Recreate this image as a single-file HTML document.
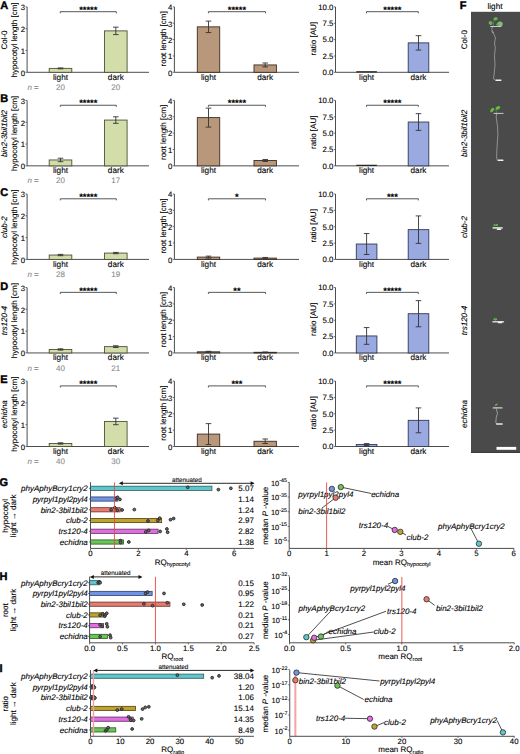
<!DOCTYPE html>
<html><head><meta charset="utf-8"><style>
html,body{margin:0;padding:0;background:#fff;width:520px;height:754px;overflow:hidden}
svg{display:block;font-family:"Liberation Sans", sans-serif;text-rendering:geometricPrecision}
text{stroke-width:0.1px}
</style></head><body>
<svg width="520" height="754" viewBox="0 0 520 754">
<text x="0.2" y="8.9" font-size="11" text-anchor="start" fill="#000" stroke="#000" font-weight="bold" style="stroke-width:0.4px">A</text>
<line x1="27.1" y1="6.9" x2="27.1" y2="72.3" stroke="#4d4d4d" stroke-width="1"/>
<line x1="27.1" y1="72.3" x2="149" y2="72.3" stroke="#4d4d4d" stroke-width="1"/>
<line x1="25.5" y1="72.3" x2="27.1" y2="72.3" stroke="#4d4d4d" stroke-width="0.8"/>
<text x="25" y="75.55" font-size="7.8" text-anchor="end" fill="#000" stroke="#000">0</text>
<line x1="25.5" y1="50.5" x2="27.1" y2="50.5" stroke="#4d4d4d" stroke-width="0.8"/>
<text x="25" y="53.75" font-size="7.8" text-anchor="end" fill="#000" stroke="#000">1</text>
<line x1="25.5" y1="28.7" x2="27.1" y2="28.7" stroke="#4d4d4d" stroke-width="0.8"/>
<text x="25" y="31.95" font-size="7.8" text-anchor="end" fill="#000" stroke="#000">2</text>
<line x1="25.5" y1="6.9" x2="27.1" y2="6.9" stroke="#4d4d4d" stroke-width="0.8"/>
<text x="25" y="10.15" font-size="7.8" text-anchor="end" fill="#000" stroke="#000">3</text>
<text x="16.9" y="40" font-size="8" text-anchor="middle" fill="#000" stroke="#000" transform="rotate(-90 16.9 40)">hypocotyl length [cm]</text>
<text x="7.4" y="40" font-size="8" text-anchor="middle" fill="#000" stroke="#000" transform="rotate(-90 7.4 40)">Col-0</text>
<rect x="49.2" y="68.38" width="22.6" height="3.92" fill="#d2dda9" stroke="#4b5238" stroke-width="0.9"/>
<line x1="60.5" y1="67.94" x2="60.5" y2="68.81" stroke="#333" stroke-width="0.9"/>
<line x1="57.7" y1="67.94" x2="63.3" y2="67.94" stroke="#333" stroke-width="0.9"/>
<line x1="57.7" y1="68.81" x2="63.3" y2="68.81" stroke="#333" stroke-width="0.9"/>
<text x="60.5" y="79.7" font-size="8.2" text-anchor="middle" fill="#000" stroke="#000">light</text>
<text x="60.5" y="89.9" font-size="8" text-anchor="middle" fill="#8c8c8c" stroke="#8c8c8c">20</text>
<rect x="104.5" y="30.88" width="22.6" height="41.42" fill="#d2dda9" stroke="#4b5238" stroke-width="0.9"/>
<line x1="115.8" y1="27.17" x2="115.8" y2="34.59" stroke="#333" stroke-width="0.9"/>
<line x1="113" y1="27.17" x2="118.6" y2="27.17" stroke="#333" stroke-width="0.9"/>
<line x1="113" y1="34.59" x2="118.6" y2="34.59" stroke="#333" stroke-width="0.9"/>
<text x="115.8" y="79.7" font-size="8.2" text-anchor="middle" fill="#000" stroke="#000">dark</text>
<text x="115.8" y="89.9" font-size="8" text-anchor="middle" fill="#8c8c8c" stroke="#8c8c8c">20</text>
<text x="27.4" y="89.9" font-size="8" text-anchor="start" fill="#8c8c8c" stroke="#8c8c8c"><tspan font-style="italic">n</tspan> =</text>
<path d="M60.3 13.3V11.7H116.3V13.3" fill="none" stroke="#444" stroke-width="0.9"/>
<text x="88.3" y="12.9" font-size="9.4" text-anchor="middle" fill="#000" stroke="#000" font-weight="bold">*****</text>
<line x1="174.4" y1="6.9" x2="174.4" y2="72.3" stroke="#4d4d4d" stroke-width="1"/>
<line x1="174.4" y1="72.3" x2="299" y2="72.3" stroke="#4d4d4d" stroke-width="1"/>
<line x1="172.8" y1="72.3" x2="174.4" y2="72.3" stroke="#4d4d4d" stroke-width="0.8"/>
<text x="172.3" y="75.55" font-size="7.8" text-anchor="end" fill="#000" stroke="#000">0</text>
<line x1="172.8" y1="55.95" x2="174.4" y2="55.95" stroke="#4d4d4d" stroke-width="0.8"/>
<text x="172.3" y="59.2" font-size="7.8" text-anchor="end" fill="#000" stroke="#000">1</text>
<line x1="172.8" y1="39.6" x2="174.4" y2="39.6" stroke="#4d4d4d" stroke-width="0.8"/>
<text x="172.3" y="42.85" font-size="7.8" text-anchor="end" fill="#000" stroke="#000">2</text>
<line x1="172.8" y1="23.25" x2="174.4" y2="23.25" stroke="#4d4d4d" stroke-width="0.8"/>
<text x="172.3" y="26.5" font-size="7.8" text-anchor="end" fill="#000" stroke="#000">3</text>
<line x1="172.8" y1="6.9" x2="174.4" y2="6.9" stroke="#4d4d4d" stroke-width="0.8"/>
<text x="172.3" y="10.15" font-size="7.8" text-anchor="end" fill="#000" stroke="#000">4</text>
<text x="165.6" y="38.9" font-size="8" text-anchor="middle" fill="#000" stroke="#000" transform="rotate(-90 165.6 38.9)">root length [cm]</text>
<rect x="197.3" y="26.85" width="22.4" height="45.45" fill="#b9977b" stroke="#3b2d22" stroke-width="0.9"/>
<line x1="208.5" y1="21.12" x2="208.5" y2="32.57" stroke="#333" stroke-width="0.9"/>
<line x1="205.7" y1="21.12" x2="211.3" y2="21.12" stroke="#333" stroke-width="0.9"/>
<line x1="205.7" y1="32.57" x2="211.3" y2="32.57" stroke="#333" stroke-width="0.9"/>
<text x="208.5" y="79.7" font-size="8.2" text-anchor="middle" fill="#000" stroke="#000">light</text>
<rect x="254" y="64.94" width="22.4" height="7.36" fill="#b9977b" stroke="#3b2d22" stroke-width="0.9"/>
<line x1="265.2" y1="62.98" x2="265.2" y2="66.9" stroke="#333" stroke-width="0.9"/>
<line x1="262.4" y1="62.98" x2="268" y2="62.98" stroke="#333" stroke-width="0.9"/>
<line x1="262.4" y1="66.9" x2="268" y2="66.9" stroke="#333" stroke-width="0.9"/>
<text x="265.2" y="79.7" font-size="8.2" text-anchor="middle" fill="#000" stroke="#000">dark</text>
<path d="M208.4 13.3V11.7H265.5V13.3" fill="none" stroke="#444" stroke-width="0.9"/>
<text x="236.95" y="12.9" font-size="9.4" text-anchor="middle" fill="#000" stroke="#000" font-weight="bold">*****</text>
<line x1="335.5" y1="6.9" x2="335.5" y2="72.3" stroke="#4d4d4d" stroke-width="1"/>
<line x1="335.5" y1="72.3" x2="449" y2="72.3" stroke="#4d4d4d" stroke-width="1"/>
<line x1="333.9" y1="72.3" x2="335.5" y2="72.3" stroke="#4d4d4d" stroke-width="0.8"/>
<text x="333.4" y="75.15" font-size="7.8" text-anchor="end" fill="#000" stroke="#000">0.0</text>
<line x1="333.9" y1="55.95" x2="335.5" y2="55.95" stroke="#4d4d4d" stroke-width="0.8"/>
<text x="333.4" y="58.8" font-size="7.8" text-anchor="end" fill="#000" stroke="#000">2.5</text>
<line x1="333.9" y1="39.6" x2="335.5" y2="39.6" stroke="#4d4d4d" stroke-width="0.8"/>
<text x="333.4" y="42.45" font-size="7.8" text-anchor="end" fill="#000" stroke="#000">5.0</text>
<line x1="333.9" y1="23.25" x2="335.5" y2="23.25" stroke="#4d4d4d" stroke-width="0.8"/>
<text x="333.4" y="26.1" font-size="7.8" text-anchor="end" fill="#000" stroke="#000">7.5</text>
<line x1="333.9" y1="6.9" x2="335.5" y2="6.9" stroke="#4d4d4d" stroke-width="0.8"/>
<text x="333.4" y="9.75" font-size="7.8" text-anchor="end" fill="#000" stroke="#000">10.0</text>
<text x="315.8" y="38.7" font-size="8" text-anchor="middle" fill="#000" stroke="#000" transform="rotate(-90 315.8 38.7)">ratio [AU]</text>
<line x1="356.3" y1="71.8" x2="376.9" y2="71.8" stroke="#222" stroke-width="1.2"/>
<text x="366.6" y="79.7" font-size="8.2" text-anchor="middle" fill="#000" stroke="#000">light</text>
<rect x="408.2" y="42.87" width="20.6" height="29.43" fill="#9aa9e0" stroke="#313a55" stroke-width="0.9"/>
<line x1="418.5" y1="35.68" x2="418.5" y2="50.06" stroke="#333" stroke-width="0.9"/>
<line x1="415.7" y1="35.68" x2="421.3" y2="35.68" stroke="#333" stroke-width="0.9"/>
<line x1="415.7" y1="50.06" x2="421.3" y2="50.06" stroke="#333" stroke-width="0.9"/>
<text x="418.5" y="79.7" font-size="8.2" text-anchor="middle" fill="#000" stroke="#000">dark</text>
<path d="M366.5 13.3V11.7H418.3V13.3" fill="none" stroke="#444" stroke-width="0.9"/>
<text x="392.4" y="12.9" font-size="9.4" text-anchor="middle" fill="#000" stroke="#000" font-weight="bold">*****</text>
<text x="0.2" y="102.45" font-size="11" text-anchor="start" fill="#000" stroke="#000" font-weight="bold" style="stroke-width:0.4px">B</text>
<line x1="27.1" y1="100.45" x2="27.1" y2="165.85" stroke="#4d4d4d" stroke-width="1"/>
<line x1="27.1" y1="165.85" x2="149" y2="165.85" stroke="#4d4d4d" stroke-width="1"/>
<line x1="25.5" y1="165.85" x2="27.1" y2="165.85" stroke="#4d4d4d" stroke-width="0.8"/>
<text x="25" y="169.1" font-size="7.8" text-anchor="end" fill="#000" stroke="#000">0</text>
<line x1="25.5" y1="144.05" x2="27.1" y2="144.05" stroke="#4d4d4d" stroke-width="0.8"/>
<text x="25" y="147.3" font-size="7.8" text-anchor="end" fill="#000" stroke="#000">1</text>
<line x1="25.5" y1="122.25" x2="27.1" y2="122.25" stroke="#4d4d4d" stroke-width="0.8"/>
<text x="25" y="125.5" font-size="7.8" text-anchor="end" fill="#000" stroke="#000">2</text>
<line x1="25.5" y1="100.45" x2="27.1" y2="100.45" stroke="#4d4d4d" stroke-width="0.8"/>
<text x="25" y="103.7" font-size="7.8" text-anchor="end" fill="#000" stroke="#000">3</text>
<text x="16.9" y="133.55" font-size="8" text-anchor="middle" fill="#000" stroke="#000" transform="rotate(-90 16.9 133.55)">hypocotyl length [cm]</text>
<text x="7.4" y="133.55" font-size="8" text-anchor="middle" fill="#000" stroke="#000" font-style="italic" transform="rotate(-90 7.4 133.55)">bin2-3bil1bil2</text>
<rect x="49.2" y="159.96" width="22.6" height="5.89" fill="#d2dda9" stroke="#4b5238" stroke-width="0.9"/>
<line x1="60.5" y1="158.22" x2="60.5" y2="161.71" stroke="#333" stroke-width="0.9"/>
<line x1="57.7" y1="158.22" x2="63.3" y2="158.22" stroke="#333" stroke-width="0.9"/>
<line x1="57.7" y1="161.71" x2="63.3" y2="161.71" stroke="#333" stroke-width="0.9"/>
<text x="60.5" y="173.25" font-size="8.2" text-anchor="middle" fill="#000" stroke="#000">light</text>
<text x="60.5" y="183.45" font-size="8" text-anchor="middle" fill="#8c8c8c" stroke="#8c8c8c">20</text>
<rect x="104.5" y="120.07" width="22.6" height="45.78" fill="#d2dda9" stroke="#4b5238" stroke-width="0.9"/>
<line x1="115.8" y1="116.8" x2="115.8" y2="123.34" stroke="#333" stroke-width="0.9"/>
<line x1="113" y1="116.8" x2="118.6" y2="116.8" stroke="#333" stroke-width="0.9"/>
<line x1="113" y1="123.34" x2="118.6" y2="123.34" stroke="#333" stroke-width="0.9"/>
<text x="115.8" y="173.25" font-size="8.2" text-anchor="middle" fill="#000" stroke="#000">dark</text>
<text x="115.8" y="183.45" font-size="8" text-anchor="middle" fill="#8c8c8c" stroke="#8c8c8c">17</text>
<text x="27.4" y="183.45" font-size="8" text-anchor="start" fill="#8c8c8c" stroke="#8c8c8c"><tspan font-style="italic">n</tspan> =</text>
<path d="M60.3 106.85V105.25H116.3V106.85" fill="none" stroke="#444" stroke-width="0.9"/>
<text x="88.3" y="106.45" font-size="9.4" text-anchor="middle" fill="#000" stroke="#000" font-weight="bold">*****</text>
<line x1="174.4" y1="100.45" x2="174.4" y2="165.85" stroke="#4d4d4d" stroke-width="1"/>
<line x1="174.4" y1="165.85" x2="299" y2="165.85" stroke="#4d4d4d" stroke-width="1"/>
<line x1="172.8" y1="165.85" x2="174.4" y2="165.85" stroke="#4d4d4d" stroke-width="0.8"/>
<text x="172.3" y="169.1" font-size="7.8" text-anchor="end" fill="#000" stroke="#000">0</text>
<line x1="172.8" y1="149.5" x2="174.4" y2="149.5" stroke="#4d4d4d" stroke-width="0.8"/>
<text x="172.3" y="152.75" font-size="7.8" text-anchor="end" fill="#000" stroke="#000">1</text>
<line x1="172.8" y1="133.15" x2="174.4" y2="133.15" stroke="#4d4d4d" stroke-width="0.8"/>
<text x="172.3" y="136.4" font-size="7.8" text-anchor="end" fill="#000" stroke="#000">2</text>
<line x1="172.8" y1="116.8" x2="174.4" y2="116.8" stroke="#4d4d4d" stroke-width="0.8"/>
<text x="172.3" y="120.05" font-size="7.8" text-anchor="end" fill="#000" stroke="#000">3</text>
<line x1="172.8" y1="100.45" x2="174.4" y2="100.45" stroke="#4d4d4d" stroke-width="0.8"/>
<text x="172.3" y="103.7" font-size="7.8" text-anchor="end" fill="#000" stroke="#000">4</text>
<text x="165.6" y="132.45" font-size="8" text-anchor="middle" fill="#000" stroke="#000" transform="rotate(-90 165.6 132.45)">root length [cm]</text>
<rect x="197.3" y="117.62" width="22.4" height="48.23" fill="#b9977b" stroke="#3b2d22" stroke-width="0.9"/>
<line x1="208.5" y1="108.13" x2="208.5" y2="127.1" stroke="#333" stroke-width="0.9"/>
<line x1="205.7" y1="108.13" x2="211.3" y2="108.13" stroke="#333" stroke-width="0.9"/>
<line x1="205.7" y1="127.1" x2="211.3" y2="127.1" stroke="#333" stroke-width="0.9"/>
<text x="208.5" y="173.25" font-size="8.2" text-anchor="middle" fill="#000" stroke="#000">light</text>
<rect x="254" y="160.45" width="22.4" height="5.4" fill="#b9977b" stroke="#3b2d22" stroke-width="0.9"/>
<line x1="265.2" y1="159.47" x2="265.2" y2="161.44" stroke="#333" stroke-width="0.9"/>
<line x1="262.4" y1="159.47" x2="268" y2="159.47" stroke="#333" stroke-width="0.9"/>
<line x1="262.4" y1="161.44" x2="268" y2="161.44" stroke="#333" stroke-width="0.9"/>
<text x="265.2" y="173.25" font-size="8.2" text-anchor="middle" fill="#000" stroke="#000">dark</text>
<path d="M208.4 106.85V105.25H265.5V106.85" fill="none" stroke="#444" stroke-width="0.9"/>
<text x="236.95" y="106.45" font-size="9.4" text-anchor="middle" fill="#000" stroke="#000" font-weight="bold">*****</text>
<line x1="335.5" y1="100.45" x2="335.5" y2="165.85" stroke="#4d4d4d" stroke-width="1"/>
<line x1="335.5" y1="165.85" x2="449" y2="165.85" stroke="#4d4d4d" stroke-width="1"/>
<line x1="333.9" y1="165.85" x2="335.5" y2="165.85" stroke="#4d4d4d" stroke-width="0.8"/>
<text x="333.4" y="168.7" font-size="7.8" text-anchor="end" fill="#000" stroke="#000">0.0</text>
<line x1="333.9" y1="149.5" x2="335.5" y2="149.5" stroke="#4d4d4d" stroke-width="0.8"/>
<text x="333.4" y="152.35" font-size="7.8" text-anchor="end" fill="#000" stroke="#000">2.5</text>
<line x1="333.9" y1="133.15" x2="335.5" y2="133.15" stroke="#4d4d4d" stroke-width="0.8"/>
<text x="333.4" y="136" font-size="7.8" text-anchor="end" fill="#000" stroke="#000">5.0</text>
<line x1="333.9" y1="116.8" x2="335.5" y2="116.8" stroke="#4d4d4d" stroke-width="0.8"/>
<text x="333.4" y="119.65" font-size="7.8" text-anchor="end" fill="#000" stroke="#000">7.5</text>
<line x1="333.9" y1="100.45" x2="335.5" y2="100.45" stroke="#4d4d4d" stroke-width="0.8"/>
<text x="333.4" y="103.3" font-size="7.8" text-anchor="end" fill="#000" stroke="#000">10.0</text>
<text x="315.8" y="132.25" font-size="8" text-anchor="middle" fill="#000" stroke="#000" transform="rotate(-90 315.8 132.25)">ratio [AU]</text>
<line x1="356.3" y1="165.35" x2="376.9" y2="165.35" stroke="#222" stroke-width="1.2"/>
<text x="366.6" y="173.25" font-size="8.2" text-anchor="middle" fill="#000" stroke="#000">light</text>
<rect x="408.2" y="122.03" width="20.6" height="43.82" fill="#9aa9e0" stroke="#313a55" stroke-width="0.9"/>
<line x1="418.5" y1="113.66" x2="418.5" y2="130.4" stroke="#333" stroke-width="0.9"/>
<line x1="415.7" y1="113.66" x2="421.3" y2="113.66" stroke="#333" stroke-width="0.9"/>
<line x1="415.7" y1="130.4" x2="421.3" y2="130.4" stroke="#333" stroke-width="0.9"/>
<text x="418.5" y="173.25" font-size="8.2" text-anchor="middle" fill="#000" stroke="#000">dark</text>
<path d="M366.5 106.85V105.25H418.3V106.85" fill="none" stroke="#444" stroke-width="0.9"/>
<text x="392.4" y="106.45" font-size="9.4" text-anchor="middle" fill="#000" stroke="#000" font-weight="bold">*****</text>
<text x="0.2" y="196" font-size="11" text-anchor="start" fill="#000" stroke="#000" font-weight="bold" style="stroke-width:0.4px">C</text>
<line x1="27.1" y1="194" x2="27.1" y2="259.4" stroke="#4d4d4d" stroke-width="1"/>
<line x1="27.1" y1="259.4" x2="149" y2="259.4" stroke="#4d4d4d" stroke-width="1"/>
<line x1="25.5" y1="259.4" x2="27.1" y2="259.4" stroke="#4d4d4d" stroke-width="0.8"/>
<text x="25" y="262.65" font-size="7.8" text-anchor="end" fill="#000" stroke="#000">0</text>
<line x1="25.5" y1="237.6" x2="27.1" y2="237.6" stroke="#4d4d4d" stroke-width="0.8"/>
<text x="25" y="240.85" font-size="7.8" text-anchor="end" fill="#000" stroke="#000">1</text>
<line x1="25.5" y1="215.8" x2="27.1" y2="215.8" stroke="#4d4d4d" stroke-width="0.8"/>
<text x="25" y="219.05" font-size="7.8" text-anchor="end" fill="#000" stroke="#000">2</text>
<line x1="25.5" y1="194" x2="27.1" y2="194" stroke="#4d4d4d" stroke-width="0.8"/>
<text x="25" y="197.25" font-size="7.8" text-anchor="end" fill="#000" stroke="#000">3</text>
<text x="16.9" y="227.1" font-size="8" text-anchor="middle" fill="#000" stroke="#000" transform="rotate(-90 16.9 227.1)">hypocotyl length [cm]</text>
<text x="7.4" y="227.1" font-size="8" text-anchor="middle" fill="#000" stroke="#000" font-style="italic" transform="rotate(-90 7.4 227.1)">club-2</text>
<rect x="49.2" y="255.04" width="22.6" height="4.36" fill="#d2dda9" stroke="#4b5238" stroke-width="0.9"/>
<line x1="60.5" y1="254.39" x2="60.5" y2="255.69" stroke="#333" stroke-width="0.9"/>
<line x1="57.7" y1="254.39" x2="63.3" y2="254.39" stroke="#333" stroke-width="0.9"/>
<line x1="57.7" y1="255.69" x2="63.3" y2="255.69" stroke="#333" stroke-width="0.9"/>
<text x="60.5" y="266.8" font-size="8.2" text-anchor="middle" fill="#000" stroke="#000">light</text>
<text x="60.5" y="277" font-size="8" text-anchor="middle" fill="#8c8c8c" stroke="#8c8c8c">28</text>
<rect x="104.5" y="253.08" width="22.6" height="6.32" fill="#d2dda9" stroke="#4b5238" stroke-width="0.9"/>
<line x1="115.8" y1="252.42" x2="115.8" y2="253.73" stroke="#333" stroke-width="0.9"/>
<line x1="113" y1="252.42" x2="118.6" y2="252.42" stroke="#333" stroke-width="0.9"/>
<line x1="113" y1="253.73" x2="118.6" y2="253.73" stroke="#333" stroke-width="0.9"/>
<text x="115.8" y="266.8" font-size="8.2" text-anchor="middle" fill="#000" stroke="#000">dark</text>
<text x="115.8" y="277" font-size="8" text-anchor="middle" fill="#8c8c8c" stroke="#8c8c8c">19</text>
<text x="27.4" y="277" font-size="8" text-anchor="start" fill="#8c8c8c" stroke="#8c8c8c"><tspan font-style="italic">n</tspan> =</text>
<path d="M60.3 200.4V198.8H116.3V200.4" fill="none" stroke="#444" stroke-width="0.9"/>
<text x="88.3" y="200" font-size="9.4" text-anchor="middle" fill="#000" stroke="#000" font-weight="bold">*****</text>
<line x1="174.4" y1="194" x2="174.4" y2="259.4" stroke="#4d4d4d" stroke-width="1"/>
<line x1="174.4" y1="259.4" x2="299" y2="259.4" stroke="#4d4d4d" stroke-width="1"/>
<line x1="172.8" y1="259.4" x2="174.4" y2="259.4" stroke="#4d4d4d" stroke-width="0.8"/>
<text x="172.3" y="262.65" font-size="7.8" text-anchor="end" fill="#000" stroke="#000">0</text>
<line x1="172.8" y1="243.05" x2="174.4" y2="243.05" stroke="#4d4d4d" stroke-width="0.8"/>
<text x="172.3" y="246.3" font-size="7.8" text-anchor="end" fill="#000" stroke="#000">1</text>
<line x1="172.8" y1="226.7" x2="174.4" y2="226.7" stroke="#4d4d4d" stroke-width="0.8"/>
<text x="172.3" y="229.95" font-size="7.8" text-anchor="end" fill="#000" stroke="#000">2</text>
<line x1="172.8" y1="210.35" x2="174.4" y2="210.35" stroke="#4d4d4d" stroke-width="0.8"/>
<text x="172.3" y="213.6" font-size="7.8" text-anchor="end" fill="#000" stroke="#000">3</text>
<line x1="172.8" y1="194" x2="174.4" y2="194" stroke="#4d4d4d" stroke-width="0.8"/>
<text x="172.3" y="197.25" font-size="7.8" text-anchor="end" fill="#000" stroke="#000">4</text>
<text x="165.6" y="226" font-size="8" text-anchor="middle" fill="#000" stroke="#000" transform="rotate(-90 165.6 226)">root length [cm]</text>
<rect x="197.3" y="257.11" width="22.4" height="2.29" fill="#b9977b" stroke="#3b2d22" stroke-width="0.9"/>
<line x1="208.5" y1="256.13" x2="208.5" y2="258.09" stroke="#333" stroke-width="0.9"/>
<line x1="205.7" y1="256.13" x2="211.3" y2="256.13" stroke="#333" stroke-width="0.9"/>
<line x1="205.7" y1="258.09" x2="211.3" y2="258.09" stroke="#333" stroke-width="0.9"/>
<text x="208.5" y="266.8" font-size="8.2" text-anchor="middle" fill="#000" stroke="#000">light</text>
<rect x="254" y="258.09" width="22.4" height="1.31" fill="#b9977b" stroke="#3b2d22" stroke-width="0.9"/>
<line x1="265.2" y1="257.44" x2="265.2" y2="258.75" stroke="#333" stroke-width="0.9"/>
<line x1="262.4" y1="257.44" x2="268" y2="257.44" stroke="#333" stroke-width="0.9"/>
<line x1="262.4" y1="258.75" x2="268" y2="258.75" stroke="#333" stroke-width="0.9"/>
<text x="265.2" y="266.8" font-size="8.2" text-anchor="middle" fill="#000" stroke="#000">dark</text>
<path d="M208.4 200.4V198.8H265.5V200.4" fill="none" stroke="#444" stroke-width="0.9"/>
<text x="236.95" y="200" font-size="9.4" text-anchor="middle" fill="#000" stroke="#000" font-weight="bold">*</text>
<line x1="335.5" y1="194" x2="335.5" y2="259.4" stroke="#4d4d4d" stroke-width="1"/>
<line x1="335.5" y1="259.4" x2="449" y2="259.4" stroke="#4d4d4d" stroke-width="1"/>
<line x1="333.9" y1="259.4" x2="335.5" y2="259.4" stroke="#4d4d4d" stroke-width="0.8"/>
<text x="333.4" y="262.25" font-size="7.8" text-anchor="end" fill="#000" stroke="#000">0.0</text>
<line x1="333.9" y1="243.05" x2="335.5" y2="243.05" stroke="#4d4d4d" stroke-width="0.8"/>
<text x="333.4" y="245.9" font-size="7.8" text-anchor="end" fill="#000" stroke="#000">2.5</text>
<line x1="333.9" y1="226.7" x2="335.5" y2="226.7" stroke="#4d4d4d" stroke-width="0.8"/>
<text x="333.4" y="229.55" font-size="7.8" text-anchor="end" fill="#000" stroke="#000">5.0</text>
<line x1="333.9" y1="210.35" x2="335.5" y2="210.35" stroke="#4d4d4d" stroke-width="0.8"/>
<text x="333.4" y="213.2" font-size="7.8" text-anchor="end" fill="#000" stroke="#000">7.5</text>
<line x1="333.9" y1="194" x2="335.5" y2="194" stroke="#4d4d4d" stroke-width="0.8"/>
<text x="333.4" y="196.85" font-size="7.8" text-anchor="end" fill="#000" stroke="#000">10.0</text>
<text x="315.8" y="225.8" font-size="8" text-anchor="middle" fill="#000" stroke="#000" transform="rotate(-90 315.8 225.8)">ratio [AU]</text>
<rect x="356.3" y="244.03" width="20.6" height="15.37" fill="#9aa9e0" stroke="#313a55" stroke-width="0.9"/>
<line x1="366.6" y1="233.57" x2="366.6" y2="254.49" stroke="#333" stroke-width="0.9"/>
<line x1="363.8" y1="233.57" x2="369.4" y2="233.57" stroke="#333" stroke-width="0.9"/>
<line x1="363.8" y1="254.49" x2="369.4" y2="254.49" stroke="#333" stroke-width="0.9"/>
<text x="366.6" y="266.8" font-size="8.2" text-anchor="middle" fill="#000" stroke="#000">light</text>
<rect x="408.2" y="229.64" width="20.6" height="29.76" fill="#9aa9e0" stroke="#313a55" stroke-width="0.9"/>
<line x1="418.5" y1="215.91" x2="418.5" y2="243.38" stroke="#333" stroke-width="0.9"/>
<line x1="415.7" y1="215.91" x2="421.3" y2="215.91" stroke="#333" stroke-width="0.9"/>
<line x1="415.7" y1="243.38" x2="421.3" y2="243.38" stroke="#333" stroke-width="0.9"/>
<text x="418.5" y="266.8" font-size="8.2" text-anchor="middle" fill="#000" stroke="#000">dark</text>
<path d="M366.5 200.4V198.8H418.3V200.4" fill="none" stroke="#444" stroke-width="0.9"/>
<text x="392.4" y="200" font-size="9.4" text-anchor="middle" fill="#000" stroke="#000" font-weight="bold">***</text>
<text x="0.2" y="289.55" font-size="11" text-anchor="start" fill="#000" stroke="#000" font-weight="bold" style="stroke-width:0.4px">D</text>
<line x1="27.1" y1="287.55" x2="27.1" y2="352.95" stroke="#4d4d4d" stroke-width="1"/>
<line x1="27.1" y1="352.95" x2="149" y2="352.95" stroke="#4d4d4d" stroke-width="1"/>
<line x1="25.5" y1="352.95" x2="27.1" y2="352.95" stroke="#4d4d4d" stroke-width="0.8"/>
<text x="25" y="356.2" font-size="7.8" text-anchor="end" fill="#000" stroke="#000">0</text>
<line x1="25.5" y1="331.15" x2="27.1" y2="331.15" stroke="#4d4d4d" stroke-width="0.8"/>
<text x="25" y="334.4" font-size="7.8" text-anchor="end" fill="#000" stroke="#000">1</text>
<line x1="25.5" y1="309.35" x2="27.1" y2="309.35" stroke="#4d4d4d" stroke-width="0.8"/>
<text x="25" y="312.6" font-size="7.8" text-anchor="end" fill="#000" stroke="#000">2</text>
<line x1="25.5" y1="287.55" x2="27.1" y2="287.55" stroke="#4d4d4d" stroke-width="0.8"/>
<text x="25" y="290.8" font-size="7.8" text-anchor="end" fill="#000" stroke="#000">3</text>
<text x="16.9" y="320.65" font-size="8" text-anchor="middle" fill="#000" stroke="#000" transform="rotate(-90 16.9 320.65)">hypocotyl length [cm]</text>
<text x="7.4" y="320.65" font-size="8" text-anchor="middle" fill="#000" stroke="#000" font-style="italic" transform="rotate(-90 7.4 320.65)">trs120-4</text>
<rect x="49.2" y="349.46" width="22.6" height="3.49" fill="#d2dda9" stroke="#4b5238" stroke-width="0.9"/>
<line x1="60.5" y1="348.81" x2="60.5" y2="350.12" stroke="#333" stroke-width="0.9"/>
<line x1="57.7" y1="348.81" x2="63.3" y2="348.81" stroke="#333" stroke-width="0.9"/>
<line x1="57.7" y1="350.12" x2="63.3" y2="350.12" stroke="#333" stroke-width="0.9"/>
<text x="60.5" y="360.35" font-size="8.2" text-anchor="middle" fill="#000" stroke="#000">light</text>
<text x="60.5" y="370.55" font-size="8" text-anchor="middle" fill="#8c8c8c" stroke="#8c8c8c">40</text>
<rect x="104.5" y="346.63" width="22.6" height="6.32" fill="#d2dda9" stroke="#4b5238" stroke-width="0.9"/>
<line x1="115.8" y1="345.76" x2="115.8" y2="347.5" stroke="#333" stroke-width="0.9"/>
<line x1="113" y1="345.76" x2="118.6" y2="345.76" stroke="#333" stroke-width="0.9"/>
<line x1="113" y1="347.5" x2="118.6" y2="347.5" stroke="#333" stroke-width="0.9"/>
<text x="115.8" y="360.35" font-size="8.2" text-anchor="middle" fill="#000" stroke="#000">dark</text>
<text x="115.8" y="370.55" font-size="8" text-anchor="middle" fill="#8c8c8c" stroke="#8c8c8c">21</text>
<text x="27.4" y="370.55" font-size="8" text-anchor="start" fill="#8c8c8c" stroke="#8c8c8c"><tspan font-style="italic">n</tspan> =</text>
<path d="M60.3 293.95V292.35H116.3V293.95" fill="none" stroke="#444" stroke-width="0.9"/>
<text x="88.3" y="293.55" font-size="9.4" text-anchor="middle" fill="#000" stroke="#000" font-weight="bold">*****</text>
<line x1="174.4" y1="287.55" x2="174.4" y2="352.95" stroke="#4d4d4d" stroke-width="1"/>
<line x1="174.4" y1="352.95" x2="299" y2="352.95" stroke="#4d4d4d" stroke-width="1"/>
<line x1="172.8" y1="352.95" x2="174.4" y2="352.95" stroke="#4d4d4d" stroke-width="0.8"/>
<text x="172.3" y="356.2" font-size="7.8" text-anchor="end" fill="#000" stroke="#000">0</text>
<line x1="172.8" y1="336.6" x2="174.4" y2="336.6" stroke="#4d4d4d" stroke-width="0.8"/>
<text x="172.3" y="339.85" font-size="7.8" text-anchor="end" fill="#000" stroke="#000">1</text>
<line x1="172.8" y1="320.25" x2="174.4" y2="320.25" stroke="#4d4d4d" stroke-width="0.8"/>
<text x="172.3" y="323.5" font-size="7.8" text-anchor="end" fill="#000" stroke="#000">2</text>
<line x1="172.8" y1="303.9" x2="174.4" y2="303.9" stroke="#4d4d4d" stroke-width="0.8"/>
<text x="172.3" y="307.15" font-size="7.8" text-anchor="end" fill="#000" stroke="#000">3</text>
<line x1="172.8" y1="287.55" x2="174.4" y2="287.55" stroke="#4d4d4d" stroke-width="0.8"/>
<text x="172.3" y="290.8" font-size="7.8" text-anchor="end" fill="#000" stroke="#000">4</text>
<text x="165.6" y="319.55" font-size="8" text-anchor="middle" fill="#000" stroke="#000" transform="rotate(-90 165.6 319.55)">root length [cm]</text>
<rect x="197.3" y="351.81" width="22.4" height="1.14" fill="#b9977b" stroke="#3b2d22" stroke-width="0.9"/>
<line x1="208.5" y1="351.31" x2="208.5" y2="352.3" stroke="#333" stroke-width="0.9"/>
<line x1="205.7" y1="351.31" x2="211.3" y2="351.31" stroke="#333" stroke-width="0.9"/>
<line x1="205.7" y1="352.3" x2="211.3" y2="352.3" stroke="#333" stroke-width="0.9"/>
<text x="208.5" y="360.35" font-size="8.2" text-anchor="middle" fill="#000" stroke="#000">light</text>
<rect x="254" y="352.3" width="22.4" height="0.65" fill="#b9977b" stroke="#3b2d22" stroke-width="0.9"/>
<line x1="265.2" y1="351.97" x2="265.2" y2="352.62" stroke="#333" stroke-width="0.9"/>
<line x1="262.4" y1="351.97" x2="268" y2="351.97" stroke="#333" stroke-width="0.9"/>
<line x1="262.4" y1="352.62" x2="268" y2="352.62" stroke="#333" stroke-width="0.9"/>
<text x="265.2" y="360.35" font-size="8.2" text-anchor="middle" fill="#000" stroke="#000">dark</text>
<path d="M208.4 293.95V292.35H265.5V293.95" fill="none" stroke="#444" stroke-width="0.9"/>
<text x="236.95" y="293.55" font-size="9.4" text-anchor="middle" fill="#000" stroke="#000" font-weight="bold">**</text>
<line x1="335.5" y1="287.55" x2="335.5" y2="352.95" stroke="#4d4d4d" stroke-width="1"/>
<line x1="335.5" y1="352.95" x2="449" y2="352.95" stroke="#4d4d4d" stroke-width="1"/>
<line x1="333.9" y1="352.95" x2="335.5" y2="352.95" stroke="#4d4d4d" stroke-width="0.8"/>
<text x="333.4" y="355.8" font-size="7.8" text-anchor="end" fill="#000" stroke="#000">0.0</text>
<line x1="333.9" y1="336.6" x2="335.5" y2="336.6" stroke="#4d4d4d" stroke-width="0.8"/>
<text x="333.4" y="339.45" font-size="7.8" text-anchor="end" fill="#000" stroke="#000">2.5</text>
<line x1="333.9" y1="320.25" x2="335.5" y2="320.25" stroke="#4d4d4d" stroke-width="0.8"/>
<text x="333.4" y="323.1" font-size="7.8" text-anchor="end" fill="#000" stroke="#000">5.0</text>
<line x1="333.9" y1="303.9" x2="335.5" y2="303.9" stroke="#4d4d4d" stroke-width="0.8"/>
<text x="333.4" y="306.75" font-size="7.8" text-anchor="end" fill="#000" stroke="#000">7.5</text>
<line x1="333.9" y1="287.55" x2="335.5" y2="287.55" stroke="#4d4d4d" stroke-width="0.8"/>
<text x="333.4" y="290.4" font-size="7.8" text-anchor="end" fill="#000" stroke="#000">10.0</text>
<text x="315.8" y="319.35" font-size="8" text-anchor="middle" fill="#000" stroke="#000" transform="rotate(-90 315.8 319.35)">ratio [AU]</text>
<rect x="356.3" y="335.95" width="20.6" height="17" fill="#9aa9e0" stroke="#313a55" stroke-width="0.9"/>
<line x1="366.6" y1="327.57" x2="366.6" y2="344.32" stroke="#333" stroke-width="0.9"/>
<line x1="363.8" y1="327.57" x2="369.4" y2="327.57" stroke="#333" stroke-width="0.9"/>
<line x1="363.8" y1="344.32" x2="369.4" y2="344.32" stroke="#333" stroke-width="0.9"/>
<text x="366.6" y="360.35" font-size="8.2" text-anchor="middle" fill="#000" stroke="#000">light</text>
<rect x="408.2" y="313.71" width="20.6" height="39.24" fill="#9aa9e0" stroke="#313a55" stroke-width="0.9"/>
<line x1="418.5" y1="300.63" x2="418.5" y2="326.79" stroke="#333" stroke-width="0.9"/>
<line x1="415.7" y1="300.63" x2="421.3" y2="300.63" stroke="#333" stroke-width="0.9"/>
<line x1="415.7" y1="326.79" x2="421.3" y2="326.79" stroke="#333" stroke-width="0.9"/>
<text x="418.5" y="360.35" font-size="8.2" text-anchor="middle" fill="#000" stroke="#000">dark</text>
<path d="M366.5 293.95V292.35H418.3V293.95" fill="none" stroke="#444" stroke-width="0.9"/>
<text x="392.4" y="293.55" font-size="9.4" text-anchor="middle" fill="#000" stroke="#000" font-weight="bold">*****</text>
<text x="0.2" y="383.1" font-size="11" text-anchor="start" fill="#000" stroke="#000" font-weight="bold" style="stroke-width:0.4px">E</text>
<line x1="27.1" y1="381.1" x2="27.1" y2="446.5" stroke="#4d4d4d" stroke-width="1"/>
<line x1="27.1" y1="446.5" x2="149" y2="446.5" stroke="#4d4d4d" stroke-width="1"/>
<line x1="25.5" y1="446.5" x2="27.1" y2="446.5" stroke="#4d4d4d" stroke-width="0.8"/>
<text x="25" y="449.75" font-size="7.8" text-anchor="end" fill="#000" stroke="#000">0</text>
<line x1="25.5" y1="424.7" x2="27.1" y2="424.7" stroke="#4d4d4d" stroke-width="0.8"/>
<text x="25" y="427.95" font-size="7.8" text-anchor="end" fill="#000" stroke="#000">1</text>
<line x1="25.5" y1="402.9" x2="27.1" y2="402.9" stroke="#4d4d4d" stroke-width="0.8"/>
<text x="25" y="406.15" font-size="7.8" text-anchor="end" fill="#000" stroke="#000">2</text>
<line x1="25.5" y1="381.1" x2="27.1" y2="381.1" stroke="#4d4d4d" stroke-width="0.8"/>
<text x="25" y="384.35" font-size="7.8" text-anchor="end" fill="#000" stroke="#000">3</text>
<text x="16.9" y="414.2" font-size="8" text-anchor="middle" fill="#000" stroke="#000" transform="rotate(-90 16.9 414.2)">hypocotyl length [cm]</text>
<text x="7.4" y="414.2" font-size="8" text-anchor="middle" fill="#000" stroke="#000" font-style="italic" transform="rotate(-90 7.4 414.2)">echidna</text>
<rect x="49.2" y="443.45" width="22.6" height="3.05" fill="#d2dda9" stroke="#4b5238" stroke-width="0.9"/>
<line x1="60.5" y1="442.79" x2="60.5" y2="444.1" stroke="#333" stroke-width="0.9"/>
<line x1="57.7" y1="442.79" x2="63.3" y2="442.79" stroke="#333" stroke-width="0.9"/>
<line x1="57.7" y1="444.1" x2="63.3" y2="444.1" stroke="#333" stroke-width="0.9"/>
<text x="60.5" y="453.9" font-size="8.2" text-anchor="middle" fill="#000" stroke="#000">light</text>
<text x="60.5" y="464.1" font-size="8" text-anchor="middle" fill="#8c8c8c" stroke="#8c8c8c">40</text>
<rect x="104.5" y="421.43" width="22.6" height="25.07" fill="#d2dda9" stroke="#4b5238" stroke-width="0.9"/>
<line x1="115.8" y1="418.16" x2="115.8" y2="424.7" stroke="#333" stroke-width="0.9"/>
<line x1="113" y1="418.16" x2="118.6" y2="418.16" stroke="#333" stroke-width="0.9"/>
<line x1="113" y1="424.7" x2="118.6" y2="424.7" stroke="#333" stroke-width="0.9"/>
<text x="115.8" y="453.9" font-size="8.2" text-anchor="middle" fill="#000" stroke="#000">dark</text>
<text x="115.8" y="464.1" font-size="8" text-anchor="middle" fill="#8c8c8c" stroke="#8c8c8c">30</text>
<text x="27.4" y="464.1" font-size="8" text-anchor="start" fill="#8c8c8c" stroke="#8c8c8c"><tspan font-style="italic">n</tspan> =</text>
<path d="M60.3 387.5V385.9H116.3V387.5" fill="none" stroke="#444" stroke-width="0.9"/>
<text x="88.3" y="387.1" font-size="9.4" text-anchor="middle" fill="#000" stroke="#000" font-weight="bold">*****</text>
<line x1="174.4" y1="381.1" x2="174.4" y2="446.5" stroke="#4d4d4d" stroke-width="1"/>
<line x1="174.4" y1="446.5" x2="299" y2="446.5" stroke="#4d4d4d" stroke-width="1"/>
<line x1="172.8" y1="446.5" x2="174.4" y2="446.5" stroke="#4d4d4d" stroke-width="0.8"/>
<text x="172.3" y="449.75" font-size="7.8" text-anchor="end" fill="#000" stroke="#000">0</text>
<line x1="172.8" y1="430.15" x2="174.4" y2="430.15" stroke="#4d4d4d" stroke-width="0.8"/>
<text x="172.3" y="433.4" font-size="7.8" text-anchor="end" fill="#000" stroke="#000">1</text>
<line x1="172.8" y1="413.8" x2="174.4" y2="413.8" stroke="#4d4d4d" stroke-width="0.8"/>
<text x="172.3" y="417.05" font-size="7.8" text-anchor="end" fill="#000" stroke="#000">2</text>
<line x1="172.8" y1="397.45" x2="174.4" y2="397.45" stroke="#4d4d4d" stroke-width="0.8"/>
<text x="172.3" y="400.7" font-size="7.8" text-anchor="end" fill="#000" stroke="#000">3</text>
<line x1="172.8" y1="381.1" x2="174.4" y2="381.1" stroke="#4d4d4d" stroke-width="0.8"/>
<text x="172.3" y="384.35" font-size="7.8" text-anchor="end" fill="#000" stroke="#000">4</text>
<text x="165.6" y="413.1" font-size="8" text-anchor="middle" fill="#000" stroke="#000" transform="rotate(-90 165.6 413.1)">root length [cm]</text>
<rect x="197.3" y="434.07" width="22.4" height="12.43" fill="#b9977b" stroke="#3b2d22" stroke-width="0.9"/>
<line x1="208.5" y1="423.61" x2="208.5" y2="444.54" stroke="#333" stroke-width="0.9"/>
<line x1="205.7" y1="423.61" x2="211.3" y2="423.61" stroke="#333" stroke-width="0.9"/>
<line x1="205.7" y1="444.54" x2="211.3" y2="444.54" stroke="#333" stroke-width="0.9"/>
<text x="208.5" y="453.9" font-size="8.2" text-anchor="middle" fill="#000" stroke="#000">light</text>
<rect x="254" y="441.27" width="22.4" height="5.23" fill="#b9977b" stroke="#3b2d22" stroke-width="0.9"/>
<line x1="265.2" y1="438.98" x2="265.2" y2="443.56" stroke="#333" stroke-width="0.9"/>
<line x1="262.4" y1="438.98" x2="268" y2="438.98" stroke="#333" stroke-width="0.9"/>
<line x1="262.4" y1="443.56" x2="268" y2="443.56" stroke="#333" stroke-width="0.9"/>
<text x="265.2" y="453.9" font-size="8.2" text-anchor="middle" fill="#000" stroke="#000">dark</text>
<path d="M208.4 387.5V385.9H265.5V387.5" fill="none" stroke="#444" stroke-width="0.9"/>
<text x="236.95" y="387.1" font-size="9.4" text-anchor="middle" fill="#000" stroke="#000" font-weight="bold">***</text>
<line x1="335.5" y1="381.1" x2="335.5" y2="446.5" stroke="#4d4d4d" stroke-width="1"/>
<line x1="335.5" y1="446.5" x2="449" y2="446.5" stroke="#4d4d4d" stroke-width="1"/>
<line x1="333.9" y1="446.5" x2="335.5" y2="446.5" stroke="#4d4d4d" stroke-width="0.8"/>
<text x="333.4" y="449.35" font-size="7.8" text-anchor="end" fill="#000" stroke="#000">0.0</text>
<line x1="333.9" y1="430.15" x2="335.5" y2="430.15" stroke="#4d4d4d" stroke-width="0.8"/>
<text x="333.4" y="433" font-size="7.8" text-anchor="end" fill="#000" stroke="#000">2.5</text>
<line x1="333.9" y1="413.8" x2="335.5" y2="413.8" stroke="#4d4d4d" stroke-width="0.8"/>
<text x="333.4" y="416.65" font-size="7.8" text-anchor="end" fill="#000" stroke="#000">5.0</text>
<line x1="333.9" y1="397.45" x2="335.5" y2="397.45" stroke="#4d4d4d" stroke-width="0.8"/>
<text x="333.4" y="400.3" font-size="7.8" text-anchor="end" fill="#000" stroke="#000">7.5</text>
<line x1="333.9" y1="381.1" x2="335.5" y2="381.1" stroke="#4d4d4d" stroke-width="0.8"/>
<text x="333.4" y="383.95" font-size="7.8" text-anchor="end" fill="#000" stroke="#000">10.0</text>
<text x="315.8" y="412.9" font-size="8" text-anchor="middle" fill="#000" stroke="#000" transform="rotate(-90 315.8 412.9)">ratio [AU]</text>
<rect x="356.3" y="444.54" width="20.6" height="1.96" fill="#9aa9e0" stroke="#313a55" stroke-width="0.9"/>
<line x1="366.6" y1="443.56" x2="366.6" y2="445.52" stroke="#333" stroke-width="0.9"/>
<line x1="363.8" y1="443.56" x2="369.4" y2="443.56" stroke="#333" stroke-width="0.9"/>
<line x1="363.8" y1="445.52" x2="369.4" y2="445.52" stroke="#333" stroke-width="0.9"/>
<text x="366.6" y="453.9" font-size="8.2" text-anchor="middle" fill="#000" stroke="#000">light</text>
<rect x="408.2" y="420.34" width="20.6" height="26.16" fill="#9aa9e0" stroke="#313a55" stroke-width="0.9"/>
<line x1="418.5" y1="407.91" x2="418.5" y2="432.77" stroke="#333" stroke-width="0.9"/>
<line x1="415.7" y1="407.91" x2="421.3" y2="407.91" stroke="#333" stroke-width="0.9"/>
<line x1="415.7" y1="432.77" x2="421.3" y2="432.77" stroke="#333" stroke-width="0.9"/>
<text x="418.5" y="453.9" font-size="8.2" text-anchor="middle" fill="#000" stroke="#000">dark</text>
<path d="M366.5 387.5V385.9H418.3V387.5" fill="none" stroke="#444" stroke-width="0.9"/>
<text x="392.4" y="387.1" font-size="9.4" text-anchor="middle" fill="#000" stroke="#000" font-weight="bold">*****</text>
<text x="459.8" y="8.9" font-size="11" text-anchor="start" fill="#000" stroke="#000" font-weight="bold" style="stroke-width:0.4px">F</text>
<text x="495" y="8.6" font-size="8.2" text-anchor="middle" fill="#000" stroke="#000">light</text>
<rect x="471" y="11.8" width="49" height="441" fill="#4a4a4a"/>
<rect x="471" y="451.8" width="49" height="1.2" fill="#3c3c3c"/>
<text x="467.4" y="39.7" font-size="8" text-anchor="middle" fill="#000" stroke="#000" transform="rotate(-90 467.4 39.7)">Col-0</text>
<text x="467.4" y="133.3" font-size="8" text-anchor="middle" fill="#000" stroke="#000" font-style="italic" transform="rotate(-90 467.4 133.3)">bin2-3bil1bil2</text>
<text x="467.4" y="227" font-size="8" text-anchor="middle" fill="#000" stroke="#000" font-style="italic" transform="rotate(-90 467.4 227)">club-2</text>
<text x="467.4" y="320.5" font-size="8" text-anchor="middle" fill="#000" stroke="#000" font-style="italic" transform="rotate(-90 467.4 320.5)">trs120-4</text>
<text x="467.4" y="414" font-size="8" text-anchor="middle" fill="#000" stroke="#000" font-style="italic" transform="rotate(-90 467.4 414)">echidna</text>
<path d="M493.4 26.5 L493.3 22 L495.2 19.5" fill="none" stroke="#5a9a48" stroke-width="0.7" stroke-linecap="round" stroke-linejoin="round" opacity="1"/>
<ellipse cx="495.6" cy="18.9" rx="2.2" ry="1.6" fill="#66ae52" transform="rotate(-15 495.6 18.9)" opacity="1"/>
<ellipse cx="490.6" cy="23" rx="2.0" ry="1.8" fill="#6cae58" transform="rotate(20 490.6 23)" opacity="1"/>
<ellipse cx="500" cy="24" rx="2.8" ry="2.6" fill="#86b878" transform="rotate(0 500 24)" opacity="1"/>
<ellipse cx="497.6" cy="24.6" rx="1.6" ry="1.0" fill="#5fae4c" transform="rotate(0 497.6 24.6)" opacity="1"/>
<path d="M492.6 26.8 L491.6 29.4 L493.6 33 L491.8 31.5 L494 34.3 L495.5 38.1 L494.5 43 L495.3 47.8 L494.5 55.6 L495 65.2 L494 74.9 L493.6 78.8 L495.5 80.2" fill="none" stroke="#a9a9a9" stroke-width="0.75" stroke-linecap="round" stroke-linejoin="round" opacity="1"/>
<path d="M490.6 26.5 H500.8" fill="none" stroke="#d8d8d8" stroke-width="0.9" stroke-linecap="round" stroke-linejoin="round" opacity="1"/>
<path d="M496.2 80.2 H500.8" fill="none" stroke="#f0f0f0" stroke-width="1.6" stroke-linecap="round" stroke-linejoin="round" opacity="1"/>
<ellipse cx="492.2" cy="110" rx="2.5" ry="1.4" fill="#62c03e" transform="rotate(-50 492.2 110)" opacity="1"/>
<ellipse cx="497.9" cy="107.9" rx="2.5" ry="1.5" fill="#62c03e" transform="rotate(-30 497.9 107.9)" opacity="1"/>
<path d="M496.8 112.9 L496.2 110.3 L494 109.6" fill="none" stroke="#4f9a3a" stroke-width="0.6" stroke-linecap="round" stroke-linejoin="round" opacity="1"/>
<path d="M496.6 113.6 L496.2 117.2 L497.5 125.9 L497.9 134.5 L497 147.4 L496.6 156.9 L497.2 160.3" fill="none" stroke="#a9a9a9" stroke-width="0.75" stroke-linecap="round" stroke-linejoin="round" opacity="1"/>
<path d="M494 113.4 H503.1" fill="none" stroke="#d8d8d8" stroke-width="0.9" stroke-linecap="round" stroke-linejoin="round" opacity="1"/>
<path d="M498.4 160.3 H502.8" fill="none" stroke="#f0f0f0" stroke-width="1.6" stroke-linecap="round" stroke-linejoin="round" opacity="1"/>
<ellipse cx="494.6" cy="225.1" rx="1.3" ry="0.9" fill="#5fbe44" transform="rotate(0 494.6 225.1)" opacity="1"/>
<ellipse cx="496.8" cy="225" rx="1.3" ry="0.9" fill="#5fbe44" transform="rotate(0 496.8 225)" opacity="1"/>
<path d="M493.2 227.9 H502.1" fill="none" stroke="#cfcfcf" stroke-width="1.6" stroke-linecap="round" stroke-linejoin="round" opacity="1"/>
<path d="M497.4 229.3 H500.6" fill="none" stroke="#f4f4f4" stroke-width="1.4" stroke-linecap="round" stroke-linejoin="round" opacity="1"/>
<ellipse cx="495.3" cy="319.2" rx="2.0" ry="1.0" fill="#5fbe44" transform="rotate(0 495.3 319.2)" opacity="1"/>
<path d="M495.6 319.5 V321.6" fill="none" stroke="#4f9a3a" stroke-width="0.7" stroke-linecap="round" stroke-linejoin="round" opacity="1"/>
<path d="M492.9 321.8 H503.5" fill="none" stroke="#d4d4d4" stroke-width="1.4" stroke-linecap="round" stroke-linejoin="round" opacity="1"/>
<path d="M498.5 322.5 H501.8" fill="none" stroke="#f4f4f4" stroke-width="1.3" stroke-linecap="round" stroke-linejoin="round" opacity="1"/>
<ellipse cx="496.3" cy="404.7" rx="1.6" ry="0.8" fill="#5fbe44" transform="rotate(-40 496.3 404.7)" opacity="1"/>
<path d="M493.2 407.9 H502.1" fill="none" stroke="#cfcfcf" stroke-width="1.1" stroke-linecap="round" stroke-linejoin="round" opacity="1"/>
<path d="M496.1 408.2 L497.5 413.4 L496.3 417.2 L495.8 422 L496.5 424" fill="none" stroke="#b0b0b0" stroke-width="0.8" stroke-linecap="round" stroke-linejoin="round" opacity="1"/>
<path d="M496.8 424 H502.1" fill="none" stroke="#e8e8e8" stroke-width="1.5" stroke-linecap="round" stroke-linejoin="round" opacity="1"/>
<rect x="496.5" y="446.9" width="19.7" height="2.9" fill="#fff"/>
<text x="-0.5" y="486" font-size="11" text-anchor="start" fill="#000" stroke="#000" font-weight="bold" style="stroke-width:0.4px">G</text>
<text x="8.2" y="515.8" font-size="8" text-anchor="middle" fill="#000" stroke="#000" transform="rotate(-90 8.2 515.8)">hypocotyl</text>
<text x="16.5" y="515.8" font-size="8" text-anchor="middle" fill="#000" stroke="#000" transform="rotate(-90 16.5 515.8)">light &#8594; dark</text>
<rect x="90.5" y="486.2" width="121.43" height="4.2" fill="#5fc6cb" stroke="#2c5c5e" stroke-width="0.8"/>
<circle cx="187.74" cy="487.3" r="1.4" fill="#6a6a6a" stroke="#262626" stroke-width="0.9"/>
<circle cx="218.39" cy="489.6" r="1.4" fill="#6a6a6a" stroke="#262626" stroke-width="0.9"/>
<circle cx="230.85" cy="488.3" r="1.4" fill="#6a6a6a" stroke="#262626" stroke-width="0.9"/>
<text x="87.8" y="491.1" font-size="8" text-anchor="end" fill="#000" stroke="#000" font-style="italic">phyAphyBcry1cry2</text>
<text x="253.9" y="491.1" font-size="8" text-anchor="end" fill="#000" stroke="#000">5.07</text>
<rect x="90.5" y="496.94" width="27.3" height="4.2" fill="#6f93e6" stroke="#2f3f66" stroke-width="0.8"/>
<circle cx="115.89" cy="498.74" r="1.4" fill="#6a6a6a" stroke="#262626" stroke-width="0.9"/>
<circle cx="117.56" cy="497.34" r="1.4" fill="#6a6a6a" stroke="#262626" stroke-width="0.9"/>
<circle cx="119.96" cy="499.44" r="1.4" fill="#6a6a6a" stroke="#262626" stroke-width="0.9"/>
<text x="87.8" y="501.84" font-size="8" text-anchor="end" fill="#000" stroke="#000" font-style="italic">pyrpyl1pyl2pyl4</text>
<text x="253.9" y="501.84" font-size="8" text-anchor="end" fill="#000" stroke="#000">1.14</text>
<rect x="90.5" y="507.68" width="29.7" height="4.2" fill="#e57c6f" stroke="#6a3028" stroke-width="0.8"/>
<circle cx="111.1" cy="509.78" r="1.4" fill="#6a6a6a" stroke="#262626" stroke-width="0.9"/>
<circle cx="114.93" cy="507.78" r="1.4" fill="#6a6a6a" stroke="#262626" stroke-width="0.9"/>
<circle cx="117.32" cy="510.28" r="1.4" fill="#6a6a6a" stroke="#262626" stroke-width="0.9"/>
<circle cx="122.11" cy="509.98" r="1.4" fill="#6a6a6a" stroke="#262626" stroke-width="0.9"/>
<circle cx="134.33" cy="509.58" r="1.4" fill="#6a6a6a" stroke="#262626" stroke-width="0.9"/>
<text x="87.8" y="512.58" font-size="8" text-anchor="end" fill="#000" stroke="#000" font-style="italic">bin2-3bil1bil2</text>
<text x="253.9" y="512.58" font-size="8" text-anchor="end" fill="#000" stroke="#000">1.24</text>
<rect x="90.5" y="518.42" width="71.13" height="4.2" fill="#bfa22f" stroke="#4f4310" stroke-width="0.8"/>
<circle cx="147.98" cy="521.02" r="1.4" fill="#6a6a6a" stroke="#262626" stroke-width="0.9"/>
<circle cx="157.8" cy="520.52" r="1.4" fill="#6a6a6a" stroke="#262626" stroke-width="0.9"/>
<circle cx="159.72" cy="518.22" r="1.4" fill="#6a6a6a" stroke="#262626" stroke-width="0.9"/>
<circle cx="170.49" cy="519.72" r="1.4" fill="#6a6a6a" stroke="#262626" stroke-width="0.9"/>
<circle cx="173.61" cy="518.52" r="1.4" fill="#6a6a6a" stroke="#262626" stroke-width="0.9"/>
<text x="87.8" y="523.32" font-size="8" text-anchor="end" fill="#000" stroke="#000" font-style="italic">club-2</text>
<text x="253.9" y="523.32" font-size="8" text-anchor="end" fill="#000" stroke="#000">2.97</text>
<rect x="90.5" y="529.16" width="67.54" height="4.2" fill="#e06fe0" stroke="#5e2a5e" stroke-width="0.8"/>
<circle cx="145.82" cy="531.86" r="1.4" fill="#6a6a6a" stroke="#262626" stroke-width="0.9"/>
<circle cx="148.7" cy="530.36" r="1.4" fill="#6a6a6a" stroke="#262626" stroke-width="0.9"/>
<circle cx="160.19" cy="531.46" r="1.4" fill="#6a6a6a" stroke="#262626" stroke-width="0.9"/>
<circle cx="166.9" cy="528.96" r="1.4" fill="#6a6a6a" stroke="#262626" stroke-width="0.9"/>
<circle cx="167.62" cy="532.26" r="1.4" fill="#6a6a6a" stroke="#262626" stroke-width="0.9"/>
<text x="87.8" y="534.06" font-size="8" text-anchor="end" fill="#000" stroke="#000" font-style="italic">trs120-4</text>
<text x="253.9" y="534.06" font-size="8" text-anchor="end" fill="#000" stroke="#000">2.82</text>
<rect x="90.5" y="539.9" width="33.05" height="4.2" fill="#6cc456" stroke="#2b5a22" stroke-width="0.8"/>
<circle cx="120.44" cy="540.6" r="1.4" fill="#6a6a6a" stroke="#262626" stroke-width="0.9"/>
<circle cx="120.68" cy="542.5" r="1.4" fill="#6a6a6a" stroke="#262626" stroke-width="0.9"/>
<circle cx="128.82" cy="542" r="1.4" fill="#6a6a6a" stroke="#262626" stroke-width="0.9"/>
<text x="87.8" y="544.8" font-size="8" text-anchor="end" fill="#000" stroke="#000" font-style="italic">echidna</text>
<text x="253.9" y="544.8" font-size="8" text-anchor="end" fill="#000" stroke="#000">1.38</text>
<line x1="114.45" y1="482.4" x2="114.45" y2="548.4" stroke="#e6483f" stroke-width="0.9"/>
<line x1="90.5" y1="482.2" x2="90.5" y2="548.4" stroke="#4d4d4d" stroke-width="1"/>
<line x1="90.5" y1="548.4" x2="253.9" y2="548.4" stroke="#4d4d4d" stroke-width="1"/>
<line x1="89" y1="488.3" x2="90.5" y2="488.3" stroke="#4d4d4d" stroke-width="0.8"/>
<line x1="89" y1="499.04" x2="90.5" y2="499.04" stroke="#4d4d4d" stroke-width="0.8"/>
<line x1="89" y1="509.78" x2="90.5" y2="509.78" stroke="#4d4d4d" stroke-width="0.8"/>
<line x1="89" y1="520.52" x2="90.5" y2="520.52" stroke="#4d4d4d" stroke-width="0.8"/>
<line x1="89" y1="531.26" x2="90.5" y2="531.26" stroke="#4d4d4d" stroke-width="0.8"/>
<line x1="89" y1="542" x2="90.5" y2="542" stroke="#4d4d4d" stroke-width="0.8"/>
<line x1="90.5" y1="548.4" x2="90.5" y2="550" stroke="#4d4d4d" stroke-width="0.8"/>
<text x="90.5" y="556.3" font-size="7.8" text-anchor="middle" fill="#000" stroke="#000">0</text>
<line x1="138.4" y1="548.4" x2="138.4" y2="550" stroke="#4d4d4d" stroke-width="0.8"/>
<text x="138.4" y="556.3" font-size="7.8" text-anchor="middle" fill="#000" stroke="#000">2</text>
<line x1="186.3" y1="548.4" x2="186.3" y2="550" stroke="#4d4d4d" stroke-width="0.8"/>
<text x="186.3" y="556.3" font-size="7.8" text-anchor="middle" fill="#000" stroke="#000">4</text>
<line x1="234.2" y1="548.4" x2="234.2" y2="550" stroke="#4d4d4d" stroke-width="0.8"/>
<text x="234.2" y="556.3" font-size="7.8" text-anchor="middle" fill="#000" stroke="#000">6</text>
<line x1="121.8" y1="483.3" x2="251.6" y2="483.3" stroke="#111" stroke-width="0.9"/>
<path d="M118.8 483.3L122.8 481.3L122.8 485.3Z" fill="#111"/>
<path d="M254.6 483.3L250.6 481.3L250.6 485.3Z" fill="#111"/>
<text x="186.8" y="481.7" font-size="6.3" text-anchor="middle" fill="#000" stroke="#000">attenuated</text>
<text x="154.7" y="564.5" font-size="8" fill="#000" stroke="#000">RQ<tspan font-size="5.6" dy="1.8">hypocotyl</tspan></text>
<line x1="289.2" y1="548.4" x2="289.2" y2="550" stroke="#4d4d4d" stroke-width="0.8"/>
<text x="289.2" y="556.3" font-size="7.8" text-anchor="middle" fill="#000" stroke="#000">0</text>
<line x1="326.62" y1="548.4" x2="326.62" y2="550" stroke="#4d4d4d" stroke-width="0.8"/>
<text x="326.62" y="556.3" font-size="7.8" text-anchor="middle" fill="#000" stroke="#000">1</text>
<line x1="364.04" y1="548.4" x2="364.04" y2="550" stroke="#4d4d4d" stroke-width="0.8"/>
<text x="364.04" y="556.3" font-size="7.8" text-anchor="middle" fill="#000" stroke="#000">2</text>
<line x1="401.46" y1="548.4" x2="401.46" y2="550" stroke="#4d4d4d" stroke-width="0.8"/>
<text x="401.46" y="556.3" font-size="7.8" text-anchor="middle" fill="#000" stroke="#000">3</text>
<line x1="438.88" y1="548.4" x2="438.88" y2="550" stroke="#4d4d4d" stroke-width="0.8"/>
<text x="438.88" y="556.3" font-size="7.8" text-anchor="middle" fill="#000" stroke="#000">4</text>
<line x1="476.3" y1="548.4" x2="476.3" y2="550" stroke="#4d4d4d" stroke-width="0.8"/>
<text x="476.3" y="556.3" font-size="7.8" text-anchor="middle" fill="#000" stroke="#000">5</text>
<line x1="513.72" y1="548.4" x2="513.72" y2="550" stroke="#4d4d4d" stroke-width="0.8"/>
<text x="513.72" y="556.3" font-size="7.8" text-anchor="middle" fill="#000" stroke="#000">6</text>
<line x1="287.7" y1="482.43" x2="289.2" y2="482.43" stroke="#4d4d4d" stroke-width="0.8"/>
<text x="287" y="485.83" font-size="7.4" text-anchor="end" fill="#000" stroke="#000">10<tspan font-size="5.4" dy="-3.4">-45</tspan></text>
<line x1="287.7" y1="497.09" x2="289.2" y2="497.09" stroke="#4d4d4d" stroke-width="0.8"/>
<text x="287" y="500.49" font-size="7.4" text-anchor="end" fill="#000" stroke="#000">10<tspan font-size="5.4" dy="-3.4">-35</tspan></text>
<line x1="287.7" y1="511.75" x2="289.2" y2="511.75" stroke="#4d4d4d" stroke-width="0.8"/>
<text x="287" y="515.15" font-size="7.4" text-anchor="end" fill="#000" stroke="#000">10<tspan font-size="5.4" dy="-3.4">-25</tspan></text>
<line x1="287.7" y1="526.41" x2="289.2" y2="526.41" stroke="#4d4d4d" stroke-width="0.8"/>
<text x="287" y="529.81" font-size="7.4" text-anchor="end" fill="#000" stroke="#000">10<tspan font-size="5.4" dy="-3.4">-15</tspan></text>
<line x1="287.7" y1="541.07" x2="289.2" y2="541.07" stroke="#4d4d4d" stroke-width="0.8"/>
<text x="287" y="544.47" font-size="7.4" text-anchor="end" fill="#000" stroke="#000">10<tspan font-size="5.4" dy="-3.4">-5</tspan></text>
<text x="268.2" y="515.8" font-size="8" text-anchor="middle" fill="#000" stroke="#000" transform="rotate(-90 268.2 515.8)">median <tspan font-style="italic">P</tspan> -value</text>
<text x="372.7" y="564.5" font-size="8" fill="#000" stroke="#000">mean RQ<tspan font-size="5.6" dy="1.8">hypocotyl</tspan></text>
<line x1="478.92" y1="543.71" x2="471" y2="528.7" stroke="#222" stroke-width="0.8"/>
<text x="471.4" y="528.6" font-size="8" text-anchor="middle" fill="#000" stroke="#000" font-style="italic">phyAphyBcry1cry2</text>
<text x="325.9" y="497.3" font-size="8" text-anchor="middle" fill="#000" stroke="#000" font-style="italic">pyrpyl1pyl2pyl4</text>
<line x1="335.6" y1="497.68" x2="322" y2="508" stroke="#222" stroke-width="0.8"/>
<text x="321.8" y="514" font-size="8" text-anchor="middle" fill="#000" stroke="#000" font-style="italic">bin2-3bil1bil2</text>
<line x1="400.34" y1="531.83" x2="406" y2="535" stroke="#222" stroke-width="0.8"/>
<text x="417.5" y="539.6" font-size="8" text-anchor="middle" fill="#000" stroke="#000" font-style="italic">club-2</text>
<line x1="394.72" y1="529.93" x2="388" y2="526.5" stroke="#222" stroke-width="0.8"/>
<text x="373.5" y="527.5" font-size="8" text-anchor="middle" fill="#000" stroke="#000" font-style="italic">trs120-4</text>
<line x1="340.84" y1="487.12" x2="371.3" y2="493.5" stroke="#222" stroke-width="0.8"/>
<text x="385.2" y="496.9" font-size="8" text-anchor="middle" fill="#000" stroke="#000" font-style="italic">echidna</text>
<line x1="326.62" y1="482.5" x2="326.62" y2="548.4" stroke="#e6483f" stroke-width="0.9"/>
<line x1="289.2" y1="482.2" x2="289.2" y2="548.4" stroke="#4d4d4d" stroke-width="1"/>
<line x1="289.2" y1="548.4" x2="514.2" y2="548.4" stroke="#4d4d4d" stroke-width="1"/>
<circle cx="478.92" cy="543.71" r="2.7" fill="#5fc6cb" stroke="#2a2a2a" stroke-width="0.8"/>
<circle cx="331.86" cy="488.88" r="2.7" fill="#6f93e6" stroke="#2a2a2a" stroke-width="0.8"/>
<circle cx="335.6" cy="497.68" r="2.7" fill="#e57c6f" stroke="#2a2a2a" stroke-width="0.8"/>
<circle cx="400.34" cy="531.83" r="2.7" fill="#bfa22f" stroke="#2a2a2a" stroke-width="0.8"/>
<circle cx="394.72" cy="529.93" r="2.7" fill="#e06fe0" stroke="#2a2a2a" stroke-width="0.8"/>
<circle cx="340.84" cy="487.12" r="2.7" fill="#6cc456" stroke="#2a2a2a" stroke-width="0.8"/>
<text x="-0.5" y="579.9" font-size="11" text-anchor="start" fill="#000" stroke="#000" font-weight="bold" style="stroke-width:0.4px">H</text>
<text x="8.2" y="610.2" font-size="8" text-anchor="middle" fill="#000" stroke="#000" transform="rotate(-90 8.2 610.2)">root</text>
<text x="16.5" y="610.2" font-size="8" text-anchor="middle" fill="#000" stroke="#000" transform="rotate(-90 16.5 610.2)">light &#8594; dark</text>
<rect x="89.6" y="580.6" width="9.88" height="4.2" fill="#5fc6cb" stroke="#2c5c5e" stroke-width="0.8"/>
<circle cx="98.16" cy="582.7" r="1.4" fill="#6a6a6a" stroke="#262626" stroke-width="0.9"/>
<circle cx="99.48" cy="581.9" r="1.4" fill="#6a6a6a" stroke="#262626" stroke-width="0.9"/>
<circle cx="100.13" cy="582.7" r="1.4" fill="#6a6a6a" stroke="#262626" stroke-width="0.9"/>
<text x="87.8" y="585.5" font-size="8" text-anchor="end" fill="#000" stroke="#000" font-style="italic">phyAphyBcry1cry2</text>
<text x="253.9" y="585.5" font-size="8" text-anchor="end" fill="#000" stroke="#000">0.15</text>
<rect x="89.6" y="591.34" width="62.55" height="4.2" fill="#6f93e6" stroke="#2f3f66" stroke-width="0.8"/>
<circle cx="145.56" cy="593.44" r="1.4" fill="#6a6a6a" stroke="#262626" stroke-width="0.9"/>
<circle cx="147.54" cy="592.04" r="1.4" fill="#6a6a6a" stroke="#262626" stroke-width="0.9"/>
<circle cx="164" cy="593.44" r="1.4" fill="#6a6a6a" stroke="#262626" stroke-width="0.9"/>
<text x="87.8" y="596.24" font-size="8" text-anchor="end" fill="#000" stroke="#000" font-style="italic">pyrpyl1pyl2pyl4</text>
<text x="253.9" y="596.24" font-size="8" text-anchor="end" fill="#000" stroke="#000">0.95</text>
<rect x="89.6" y="602.08" width="80.32" height="4.2" fill="#e57c6f" stroke="#6a3028" stroke-width="0.8"/>
<circle cx="143.92" cy="603.78" r="1.4" fill="#6a6a6a" stroke="#262626" stroke-width="0.9"/>
<circle cx="152.61" cy="605.68" r="1.4" fill="#6a6a6a" stroke="#262626" stroke-width="0.9"/>
<circle cx="167.29" cy="602.78" r="1.4" fill="#6a6a6a" stroke="#262626" stroke-width="0.9"/>
<circle cx="183.75" cy="604.28" r="1.4" fill="#6a6a6a" stroke="#262626" stroke-width="0.9"/>
<circle cx="202.19" cy="604.98" r="1.4" fill="#6a6a6a" stroke="#262626" stroke-width="0.9"/>
<text x="87.8" y="606.98" font-size="8" text-anchor="end" fill="#000" stroke="#000" font-style="italic">bin2-3bil1bil2</text>
<text x="253.9" y="606.98" font-size="8" text-anchor="end" fill="#000" stroke="#000">1.22</text>
<rect x="89.6" y="612.82" width="13.83" height="4.2" fill="#bfa22f" stroke="#4f4310" stroke-width="0.8"/>
<circle cx="100.13" cy="615.22" r="1.4" fill="#6a6a6a" stroke="#262626" stroke-width="0.9"/>
<circle cx="102.77" cy="613.82" r="1.4" fill="#6a6a6a" stroke="#262626" stroke-width="0.9"/>
<circle cx="104.74" cy="616.22" r="1.4" fill="#6a6a6a" stroke="#262626" stroke-width="0.9"/>
<circle cx="105.4" cy="614.72" r="1.4" fill="#6a6a6a" stroke="#262626" stroke-width="0.9"/>
<circle cx="106.72" cy="613.32" r="1.4" fill="#6a6a6a" stroke="#262626" stroke-width="0.9"/>
<text x="87.8" y="617.72" font-size="8" text-anchor="end" fill="#000" stroke="#000" font-style="italic">club-2</text>
<text x="253.9" y="617.72" font-size="8" text-anchor="end" fill="#000" stroke="#000">0.21</text>
<rect x="89.6" y="623.56" width="13.83" height="4.2" fill="#e06fe0" stroke="#5e2a5e" stroke-width="0.8"/>
<circle cx="100.13" cy="624.86" r="1.4" fill="#6a6a6a" stroke="#262626" stroke-width="0.9"/>
<circle cx="102.11" cy="626.26" r="1.4" fill="#6a6a6a" stroke="#262626" stroke-width="0.9"/>
<circle cx="106.72" cy="623.86" r="1.4" fill="#6a6a6a" stroke="#262626" stroke-width="0.9"/>
<circle cx="107.38" cy="626.76" r="1.4" fill="#6a6a6a" stroke="#262626" stroke-width="0.9"/>
<text x="87.8" y="628.46" font-size="8" text-anchor="end" fill="#000" stroke="#000" font-style="italic">trs120-4</text>
<text x="253.9" y="628.46" font-size="8" text-anchor="end" fill="#000" stroke="#000">0.21</text>
<rect x="89.6" y="634.3" width="17.78" height="4.2" fill="#6cc456" stroke="#2b5a22" stroke-width="0.8"/>
<circle cx="100.13" cy="636.6" r="1.4" fill="#6a6a6a" stroke="#262626" stroke-width="0.9"/>
<circle cx="110.01" cy="635.2" r="1.4" fill="#6a6a6a" stroke="#262626" stroke-width="0.9"/>
<circle cx="110.67" cy="637.6" r="1.4" fill="#6a6a6a" stroke="#262626" stroke-width="0.9"/>
<text x="87.8" y="639.2" font-size="8" text-anchor="end" fill="#000" stroke="#000" font-style="italic">echidna</text>
<text x="253.9" y="639.2" font-size="8" text-anchor="end" fill="#000" stroke="#000">0.27</text>
<line x1="155.44" y1="576.8" x2="155.44" y2="642.8" stroke="#e6483f" stroke-width="0.9"/>
<line x1="89.6" y1="576.6" x2="89.6" y2="642.8" stroke="#4d4d4d" stroke-width="1"/>
<line x1="89.6" y1="642.8" x2="254.2" y2="642.8" stroke="#4d4d4d" stroke-width="1"/>
<line x1="88.1" y1="582.7" x2="89.6" y2="582.7" stroke="#4d4d4d" stroke-width="0.8"/>
<line x1="88.1" y1="593.44" x2="89.6" y2="593.44" stroke="#4d4d4d" stroke-width="0.8"/>
<line x1="88.1" y1="604.18" x2="89.6" y2="604.18" stroke="#4d4d4d" stroke-width="0.8"/>
<line x1="88.1" y1="614.92" x2="89.6" y2="614.92" stroke="#4d4d4d" stroke-width="0.8"/>
<line x1="88.1" y1="625.66" x2="89.6" y2="625.66" stroke="#4d4d4d" stroke-width="0.8"/>
<line x1="88.1" y1="636.4" x2="89.6" y2="636.4" stroke="#4d4d4d" stroke-width="0.8"/>
<line x1="89.6" y1="642.8" x2="89.6" y2="644.4" stroke="#4d4d4d" stroke-width="0.8"/>
<text x="89.6" y="650.7" font-size="7.8" text-anchor="middle" fill="#000" stroke="#000">0.0</text>
<line x1="122.52" y1="642.8" x2="122.52" y2="644.4" stroke="#4d4d4d" stroke-width="0.8"/>
<text x="122.52" y="650.7" font-size="7.8" text-anchor="middle" fill="#000" stroke="#000">0.5</text>
<line x1="155.44" y1="642.8" x2="155.44" y2="644.4" stroke="#4d4d4d" stroke-width="0.8"/>
<text x="155.44" y="650.7" font-size="7.8" text-anchor="middle" fill="#000" stroke="#000">1.0</text>
<line x1="188.36" y1="642.8" x2="188.36" y2="644.4" stroke="#4d4d4d" stroke-width="0.8"/>
<text x="188.36" y="650.7" font-size="7.8" text-anchor="middle" fill="#000" stroke="#000">1.5</text>
<line x1="221.28" y1="642.8" x2="221.28" y2="644.4" stroke="#4d4d4d" stroke-width="0.8"/>
<text x="221.28" y="650.7" font-size="7.8" text-anchor="middle" fill="#000" stroke="#000">2.0</text>
<line x1="254.2" y1="642.8" x2="254.2" y2="644.4" stroke="#4d4d4d" stroke-width="0.8"/>
<text x="254.2" y="650.7" font-size="7.8" text-anchor="middle" fill="#000" stroke="#000">2.5</text>
<line x1="92.8" y1="576.9" x2="139.5" y2="576.9" stroke="#111" stroke-width="0.9"/>
<path d="M89.8 576.9L93.8 574.9L93.8 578.9Z" fill="#111"/>
<path d="M142.5 576.9L138.5 574.9L138.5 578.9Z" fill="#111"/>
<text x="115.6" y="575.3" font-size="6.3" text-anchor="middle" fill="#000" stroke="#000">attenuated</text>
<text x="161.5" y="658.9" font-size="8" fill="#000" stroke="#000">RQ<tspan font-size="5.6" dy="1.8">root</tspan></text>
<line x1="289.5" y1="642.8" x2="289.5" y2="644.4" stroke="#4d4d4d" stroke-width="0.8"/>
<text x="289.5" y="650.7" font-size="7.8" text-anchor="middle" fill="#000" stroke="#000">0.0</text>
<line x1="345.68" y1="642.8" x2="345.68" y2="644.4" stroke="#4d4d4d" stroke-width="0.8"/>
<text x="345.68" y="650.7" font-size="7.8" text-anchor="middle" fill="#000" stroke="#000">0.5</text>
<line x1="401.85" y1="642.8" x2="401.85" y2="644.4" stroke="#4d4d4d" stroke-width="0.8"/>
<text x="401.85" y="650.7" font-size="7.8" text-anchor="middle" fill="#000" stroke="#000">1.0</text>
<line x1="458.02" y1="642.8" x2="458.02" y2="644.4" stroke="#4d4d4d" stroke-width="0.8"/>
<text x="458.02" y="650.7" font-size="7.8" text-anchor="middle" fill="#000" stroke="#000">1.5</text>
<line x1="514.2" y1="642.8" x2="514.2" y2="644.4" stroke="#4d4d4d" stroke-width="0.8"/>
<text x="514.2" y="650.7" font-size="7.8" text-anchor="middle" fill="#000" stroke="#000">2.0</text>
<line x1="288" y1="575.79" x2="289.5" y2="575.79" stroke="#4d4d4d" stroke-width="0.8"/>
<text x="287.3" y="579.19" font-size="7.4" text-anchor="end" fill="#000" stroke="#000">10<tspan font-size="5.4" dy="-3.4">-32</tspan></text>
<line x1="288" y1="590.45" x2="289.5" y2="590.45" stroke="#4d4d4d" stroke-width="0.8"/>
<text x="287.3" y="593.85" font-size="7.4" text-anchor="end" fill="#000" stroke="#000">10<tspan font-size="5.4" dy="-3.4">-25</tspan></text>
<line x1="288" y1="605.11" x2="289.5" y2="605.11" stroke="#4d4d4d" stroke-width="0.8"/>
<text x="287.3" y="608.51" font-size="7.4" text-anchor="end" fill="#000" stroke="#000">10<tspan font-size="5.4" dy="-3.4">-18</tspan></text>
<line x1="288" y1="619.77" x2="289.5" y2="619.77" stroke="#4d4d4d" stroke-width="0.8"/>
<text x="287.3" y="623.17" font-size="7.4" text-anchor="end" fill="#000" stroke="#000">10<tspan font-size="5.4" dy="-3.4">-11</tspan></text>
<line x1="288" y1="634.42" x2="289.5" y2="634.42" stroke="#4d4d4d" stroke-width="0.8"/>
<text x="287.3" y="637.82" font-size="7.4" text-anchor="end" fill="#000" stroke="#000">10<tspan font-size="5.4" dy="-3.4">-4</tspan></text>
<text x="268.2" y="610.2" font-size="8" text-anchor="middle" fill="#000" stroke="#000" transform="rotate(-90 268.2 610.2)">median <tspan font-style="italic">P</tspan> -value</text>
<text x="378.3" y="658.9" font-size="8" fill="#000" stroke="#000">mean RQ<tspan font-size="5.6" dy="1.8">root</tspan></text>
<line x1="306.35" y1="637.15" x2="331.25" y2="610.5" stroke="#222" stroke-width="0.8"/>
<text x="331.8" y="610.8" font-size="8" text-anchor="middle" fill="#000" stroke="#000" font-style="italic">phyAphyBcry1cry2</text>
<line x1="395.11" y1="581.03" x2="388" y2="584.2" stroke="#222" stroke-width="0.8"/>
<text x="377.8" y="590.8" font-size="8" text-anchor="middle" fill="#000" stroke="#000" font-style="italic">pyrpyl1pyl2pyl4</text>
<line x1="426.57" y1="599.24" x2="434.7" y2="605.4" stroke="#222" stroke-width="0.8"/>
<text x="459.5" y="610.9" font-size="8" text-anchor="middle" fill="#000" stroke="#000" font-style="italic">bin2-3bil1bil2</text>
<line x1="313.09" y1="640.29" x2="373.75" y2="632" stroke="#222" stroke-width="0.8"/>
<text x="384.7" y="633.9" font-size="8" text-anchor="middle" fill="#000" stroke="#000" font-style="italic">club-2</text>
<line x1="314.22" y1="637.77" x2="386" y2="611.25" stroke="#222" stroke-width="0.8"/>
<text x="401.8" y="614.1" font-size="8" text-anchor="middle" fill="#000" stroke="#000" font-style="italic">trs120-4</text>
<line x1="320.96" y1="636.52" x2="328.75" y2="631.25" stroke="#222" stroke-width="0.8"/>
<text x="342.5" y="634.1" font-size="8" text-anchor="middle" fill="#000" stroke="#000" font-style="italic">echidna</text>
<line x1="401.85" y1="576.9" x2="401.85" y2="642.8" stroke="#e6483f" stroke-width="0.9"/>
<line x1="289.5" y1="576.6" x2="289.5" y2="642.8" stroke="#4d4d4d" stroke-width="1"/>
<line x1="289.5" y1="642.8" x2="514.4" y2="642.8" stroke="#4d4d4d" stroke-width="1"/>
<circle cx="306.35" cy="637.15" r="2.7" fill="#5fc6cb" stroke="#2a2a2a" stroke-width="0.8"/>
<circle cx="395.11" cy="581.03" r="2.7" fill="#6f93e6" stroke="#2a2a2a" stroke-width="0.8"/>
<circle cx="426.57" cy="599.24" r="2.7" fill="#e57c6f" stroke="#2a2a2a" stroke-width="0.8"/>
<circle cx="313.09" cy="640.29" r="2.7" fill="#bfa22f" stroke="#2a2a2a" stroke-width="0.8"/>
<circle cx="314.22" cy="637.77" r="2.7" fill="#e06fe0" stroke="#2a2a2a" stroke-width="0.8"/>
<circle cx="320.96" cy="636.52" r="2.7" fill="#6cc456" stroke="#2a2a2a" stroke-width="0.8"/>
<text x="-0.5" y="672.3" font-size="11" text-anchor="start" fill="#000" stroke="#000" font-weight="bold" style="stroke-width:0.4px">I</text>
<text x="8.2" y="703.7" font-size="8" text-anchor="middle" fill="#000" stroke="#000" transform="rotate(-90 8.2 703.7)">ratio</text>
<text x="16.5" y="703.7" font-size="8" text-anchor="middle" fill="#000" stroke="#000" transform="rotate(-90 16.5 703.7)">light &#8594; dark</text>
<rect x="90.5" y="674.1" width="113.17" height="4.2" fill="#5fc6cb" stroke="#2c5c5e" stroke-width="0.8"/>
<circle cx="177.37" cy="675.2" r="1.4" fill="#6a6a6a" stroke="#262626" stroke-width="0.9"/>
<circle cx="212.18" cy="677.7" r="1.4" fill="#6a6a6a" stroke="#262626" stroke-width="0.9"/>
<circle cx="219.02" cy="675.9" r="1.4" fill="#6a6a6a" stroke="#262626" stroke-width="0.9"/>
<text x="87.8" y="679" font-size="8" text-anchor="end" fill="#000" stroke="#000" font-style="italic">phyAphyBcry1cry2</text>
<text x="253.9" y="679" font-size="8" text-anchor="end" fill="#000" stroke="#000">38.04</text>
<rect x="90.5" y="684.84" width="3.57" height="4.2" fill="#6f93e6" stroke="#2f3f66" stroke-width="0.8"/>
<circle cx="92.28" cy="687.24" r="1.4" fill="#6a6a6a" stroke="#262626" stroke-width="0.9"/>
<circle cx="92.88" cy="685.94" r="1.4" fill="#6a6a6a" stroke="#262626" stroke-width="0.9"/>
<circle cx="93.77" cy="686.64" r="1.4" fill="#6a6a6a" stroke="#262626" stroke-width="0.9"/>
<circle cx="94.37" cy="687.54" r="1.4" fill="#6a6a6a" stroke="#262626" stroke-width="0.9"/>
<text x="87.8" y="689.74" font-size="8" text-anchor="end" fill="#000" stroke="#000" font-style="italic">pyrpyl1pyl2pyl4</text>
<text x="253.9" y="689.74" font-size="8" text-anchor="end" fill="#000" stroke="#000">1.20</text>
<rect x="90.5" y="695.58" width="3.15" height="4.2" fill="#e57c6f" stroke="#6a3028" stroke-width="0.8"/>
<circle cx="91.09" cy="697.98" r="1.4" fill="#6a6a6a" stroke="#262626" stroke-width="0.9"/>
<circle cx="91.39" cy="696.88" r="1.4" fill="#6a6a6a" stroke="#262626" stroke-width="0.9"/>
<circle cx="92.58" cy="698.18" r="1.4" fill="#6a6a6a" stroke="#262626" stroke-width="0.9"/>
<circle cx="93.47" cy="696.68" r="1.4" fill="#6a6a6a" stroke="#262626" stroke-width="0.9"/>
<circle cx="94.07" cy="698.48" r="1.4" fill="#6a6a6a" stroke="#262626" stroke-width="0.9"/>
<circle cx="94.96" cy="697.88" r="1.4" fill="#6a6a6a" stroke="#262626" stroke-width="0.9"/>
<text x="87.8" y="700.48" font-size="8" text-anchor="end" fill="#000" stroke="#000" font-style="italic">bin2-3bil1bil2</text>
<text x="253.9" y="700.48" font-size="8" text-anchor="end" fill="#000" stroke="#000">1.06</text>
<rect x="90.5" y="706.32" width="45.04" height="4.2" fill="#bfa22f" stroke="#4f4310" stroke-width="0.8"/>
<circle cx="117.28" cy="710.12" r="1.4" fill="#6a6a6a" stroke="#262626" stroke-width="0.9"/>
<circle cx="121.74" cy="709.12" r="1.4" fill="#6a6a6a" stroke="#262626" stroke-width="0.9"/>
<circle cx="142.56" cy="709.12" r="1.4" fill="#6a6a6a" stroke="#262626" stroke-width="0.9"/>
<circle cx="145.24" cy="707.42" r="1.4" fill="#6a6a6a" stroke="#262626" stroke-width="0.9"/>
<circle cx="148.81" cy="706.82" r="1.4" fill="#6a6a6a" stroke="#262626" stroke-width="0.9"/>
<text x="87.8" y="711.22" font-size="8" text-anchor="end" fill="#000" stroke="#000" font-style="italic">club-2</text>
<text x="253.9" y="711.22" font-size="8" text-anchor="end" fill="#000" stroke="#000">15.14</text>
<rect x="90.5" y="717.06" width="42.69" height="4.2" fill="#e06fe0" stroke="#5e2a5e" stroke-width="0.8"/>
<circle cx="128.58" cy="716.86" r="1.4" fill="#6a6a6a" stroke="#262626" stroke-width="0.9"/>
<circle cx="130.37" cy="718.86" r="1.4" fill="#6a6a6a" stroke="#262626" stroke-width="0.9"/>
<circle cx="130.96" cy="720.26" r="1.4" fill="#6a6a6a" stroke="#262626" stroke-width="0.9"/>
<circle cx="133.64" cy="720.46" r="1.4" fill="#6a6a6a" stroke="#262626" stroke-width="0.9"/>
<circle cx="141.67" cy="718.86" r="1.4" fill="#6a6a6a" stroke="#262626" stroke-width="0.9"/>
<text x="87.8" y="721.96" font-size="8" text-anchor="end" fill="#000" stroke="#000" font-style="italic">trs120-4</text>
<text x="253.9" y="721.96" font-size="8" text-anchor="end" fill="#000" stroke="#000">14.35</text>
<rect x="90.5" y="727.8" width="25.26" height="4.2" fill="#6cc456" stroke="#2b5a22" stroke-width="0.8"/>
<circle cx="105.52" cy="730.8" r="1.4" fill="#6a6a6a" stroke="#262626" stroke-width="0.9"/>
<circle cx="106.86" cy="729.7" r="1.4" fill="#6a6a6a" stroke="#262626" stroke-width="0.9"/>
<circle cx="108.2" cy="727.7" r="1.4" fill="#6a6a6a" stroke="#262626" stroke-width="0.9"/>
<circle cx="132.15" cy="729" r="1.4" fill="#6a6a6a" stroke="#262626" stroke-width="0.9"/>
<text x="87.8" y="732.7" font-size="8" text-anchor="end" fill="#000" stroke="#000" font-style="italic">echidna</text>
<text x="253.9" y="732.7" font-size="8" text-anchor="end" fill="#000" stroke="#000">8.49</text>
<line x1="93.47" y1="670.3" x2="93.47" y2="736.3" stroke="#f2a0a0" stroke-width="1.4"/>
<line x1="90.5" y1="670.1" x2="90.5" y2="736.3" stroke="#4d4d4d" stroke-width="1"/>
<line x1="90.5" y1="736.3" x2="253.9" y2="736.3" stroke="#4d4d4d" stroke-width="1"/>
<line x1="89" y1="676.2" x2="90.5" y2="676.2" stroke="#4d4d4d" stroke-width="0.8"/>
<line x1="89" y1="686.94" x2="90.5" y2="686.94" stroke="#4d4d4d" stroke-width="0.8"/>
<line x1="89" y1="697.68" x2="90.5" y2="697.68" stroke="#4d4d4d" stroke-width="0.8"/>
<line x1="89" y1="708.42" x2="90.5" y2="708.42" stroke="#4d4d4d" stroke-width="0.8"/>
<line x1="89" y1="719.16" x2="90.5" y2="719.16" stroke="#4d4d4d" stroke-width="0.8"/>
<line x1="89" y1="729.9" x2="90.5" y2="729.9" stroke="#4d4d4d" stroke-width="0.8"/>
<line x1="90.5" y1="736.3" x2="90.5" y2="737.9" stroke="#4d4d4d" stroke-width="0.8"/>
<text x="90.5" y="744.2" font-size="7.8" text-anchor="middle" fill="#000" stroke="#000">0</text>
<line x1="120.25" y1="736.3" x2="120.25" y2="737.9" stroke="#4d4d4d" stroke-width="0.8"/>
<text x="120.25" y="744.2" font-size="7.8" text-anchor="middle" fill="#000" stroke="#000">10</text>
<line x1="150" y1="736.3" x2="150" y2="737.9" stroke="#4d4d4d" stroke-width="0.8"/>
<text x="150" y="744.2" font-size="7.8" text-anchor="middle" fill="#000" stroke="#000">20</text>
<line x1="179.75" y1="736.3" x2="179.75" y2="737.9" stroke="#4d4d4d" stroke-width="0.8"/>
<text x="179.75" y="744.2" font-size="7.8" text-anchor="middle" fill="#000" stroke="#000">30</text>
<line x1="209.5" y1="736.3" x2="209.5" y2="737.9" stroke="#4d4d4d" stroke-width="0.8"/>
<text x="209.5" y="744.2" font-size="7.8" text-anchor="middle" fill="#000" stroke="#000">40</text>
<line x1="239.25" y1="736.3" x2="239.25" y2="737.9" stroke="#4d4d4d" stroke-width="0.8"/>
<text x="239.25" y="744.2" font-size="7.8" text-anchor="middle" fill="#000" stroke="#000">50</text>
<line x1="96.3" y1="670.4" x2="251.4" y2="670.4" stroke="#111" stroke-width="0.9"/>
<path d="M93.3 670.4L97.3 668.4L97.3 672.4Z" fill="#111"/>
<path d="M254.4 670.4L250.4 668.4L250.4 672.4Z" fill="#111"/>
<text x="173.5" y="668.8" font-size="6.3" text-anchor="middle" fill="#000" stroke="#000">attenuated</text>
<text x="161.3" y="752.4" font-size="8" fill="#000" stroke="#000">RQ<tspan font-size="5.6" dy="1.8">ratio</tspan></text>
<line x1="289.75" y1="736.3" x2="289.75" y2="737.9" stroke="#4d4d4d" stroke-width="0.8"/>
<text x="289.75" y="744.2" font-size="7.8" text-anchor="middle" fill="#000" stroke="#000">0</text>
<line x1="345.85" y1="736.3" x2="345.85" y2="737.9" stroke="#4d4d4d" stroke-width="0.8"/>
<text x="345.85" y="744.2" font-size="7.8" text-anchor="middle" fill="#000" stroke="#000">10</text>
<line x1="401.95" y1="736.3" x2="401.95" y2="737.9" stroke="#4d4d4d" stroke-width="0.8"/>
<text x="401.95" y="744.2" font-size="7.8" text-anchor="middle" fill="#000" stroke="#000">20</text>
<line x1="458.05" y1="736.3" x2="458.05" y2="737.9" stroke="#4d4d4d" stroke-width="0.8"/>
<text x="458.05" y="744.2" font-size="7.8" text-anchor="middle" fill="#000" stroke="#000">30</text>
<line x1="514.15" y1="736.3" x2="514.15" y2="737.9" stroke="#4d4d4d" stroke-width="0.8"/>
<text x="514.15" y="744.2" font-size="7.8" text-anchor="middle" fill="#000" stroke="#000">40</text>
<line x1="288.25" y1="669.55" x2="289.75" y2="669.55" stroke="#4d4d4d" stroke-width="0.8"/>
<text x="287.55" y="672.95" font-size="7.4" text-anchor="end" fill="#000" stroke="#000">10<tspan font-size="5.4" dy="-3.4">-22</tspan></text>
<line x1="288.25" y1="684.72" x2="289.75" y2="684.72" stroke="#4d4d4d" stroke-width="0.8"/>
<text x="287.55" y="688.12" font-size="7.4" text-anchor="end" fill="#000" stroke="#000">10<tspan font-size="5.4" dy="-3.4">-17</tspan></text>
<line x1="288.25" y1="699.89" x2="289.75" y2="699.89" stroke="#4d4d4d" stroke-width="0.8"/>
<text x="287.55" y="703.29" font-size="7.4" text-anchor="end" fill="#000" stroke="#000">10<tspan font-size="5.4" dy="-3.4">-12</tspan></text>
<line x1="288.25" y1="715.06" x2="289.75" y2="715.06" stroke="#4d4d4d" stroke-width="0.8"/>
<text x="287.55" y="718.46" font-size="7.4" text-anchor="end" fill="#000" stroke="#000">10<tspan font-size="5.4" dy="-3.4">-7</tspan></text>
<line x1="288.25" y1="730.23" x2="289.75" y2="730.23" stroke="#4d4d4d" stroke-width="0.8"/>
<text x="287.55" y="733.63" font-size="7.4" text-anchor="end" fill="#000" stroke="#000">10<tspan font-size="5.4" dy="-3.4">-2</tspan></text>
<text x="268.2" y="703.7" font-size="8" text-anchor="middle" fill="#000" stroke="#000" transform="rotate(-90 268.2 703.7)">median <tspan font-style="italic">P</tspan> -value</text>
<text x="378.3" y="752.4" font-size="8" fill="#000" stroke="#000">mean RQ<tspan font-size="5.6" dy="1.8">ratio</tspan></text>
<line x1="502.93" y1="732.36" x2="497.1" y2="720.5" stroke="#222" stroke-width="0.8"/>
<text x="463.5" y="723" font-size="8" text-anchor="middle" fill="#000" stroke="#000" font-style="italic">phyAphyBcry1cry2</text>
<line x1="296.48" y1="672.59" x2="379.5" y2="681" stroke="#222" stroke-width="0.8"/>
<text x="407.7" y="684" font-size="8" text-anchor="middle" fill="#000" stroke="#000" font-style="italic">pyrpyl1pyl2pyl4</text>
<text x="322.3" y="683.5" font-size="8" text-anchor="middle" fill="#000" stroke="#000" font-style="italic">bin2-3bil1bil2</text>
<line x1="374.46" y1="726.59" x2="384.25" y2="722.5" stroke="#222" stroke-width="0.8"/>
<text x="395" y="724.6" font-size="8" text-anchor="middle" fill="#000" stroke="#000" font-style="italic">club-2</text>
<line x1="369.97" y1="718.7" x2="345" y2="718.25" stroke="#222" stroke-width="0.8"/>
<text x="330.6" y="721" font-size="8" text-anchor="middle" fill="#000" stroke="#000" font-style="italic">trs120-4</text>
<line x1="337.44" y1="685.63" x2="363.75" y2="699.5" stroke="#222" stroke-width="0.8"/>
<text x="378.5" y="701.8" font-size="8" text-anchor="middle" fill="#000" stroke="#000" font-style="italic">echidna</text>
<line x1="295.36" y1="670.4" x2="295.36" y2="736.3" stroke="#f4a4a4" stroke-width="2.0"/>
<line x1="289.75" y1="670.1" x2="289.75" y2="736.3" stroke="#4d4d4d" stroke-width="1"/>
<line x1="289.75" y1="736.3" x2="514.6" y2="736.3" stroke="#4d4d4d" stroke-width="1"/>
<circle cx="502.93" cy="732.36" r="2.7" fill="#5fc6cb" stroke="#2a2a2a" stroke-width="0.8"/>
<circle cx="296.48" cy="672.59" r="2.7" fill="#6f93e6" stroke="#2a2a2a" stroke-width="0.8"/>
<circle cx="295.36" cy="680.17" r="2.7" fill="#e57c6f" stroke="#2a2a2a" stroke-width="0.8"/>
<circle cx="374.46" cy="726.59" r="2.7" fill="#bfa22f" stroke="#2a2a2a" stroke-width="0.8"/>
<circle cx="369.97" cy="718.7" r="2.7" fill="#e06fe0" stroke="#2a2a2a" stroke-width="0.8"/>
<circle cx="337.44" cy="685.63" r="2.7" fill="#6cc456" stroke="#2a2a2a" stroke-width="0.8"/>
</svg>
</body></html>
